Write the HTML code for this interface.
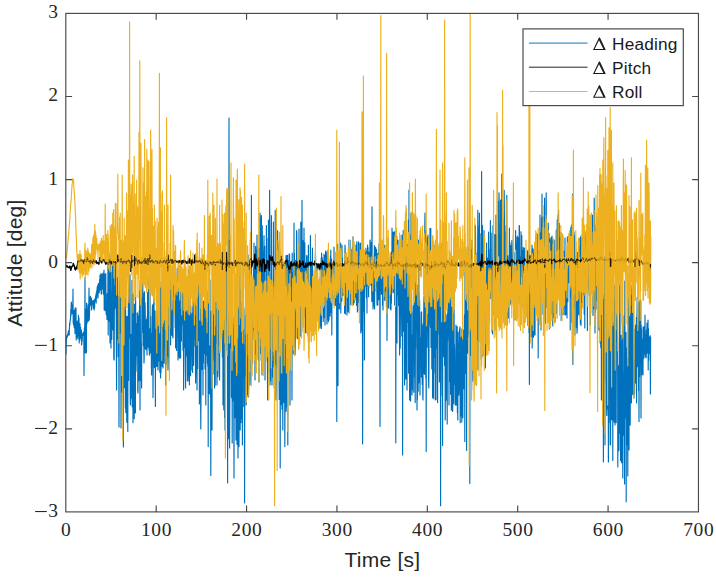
<!DOCTYPE html>
<html><head><meta charset="utf-8"><title>Attitude differences</title>
<style>
html,body{margin:0;padding:0;background:#fff;}
body{width:716px;height:577px;overflow:hidden;font-family:"Liberation Sans",sans-serif;}
svg{display:block;}
.tk text{font-family:"Liberation Serif",serif;font-size:19.5px;fill:#262626;}
.lb{font-family:"Liberation Sans",sans-serif;font-size:21px;letter-spacing:0.25px;fill:#262626;}
.lg text{font-family:"Liberation Sans",sans-serif;font-size:17.25px;fill:#1a1a1a;}
</style></head>
<body>
<svg width="716" height="577" viewBox="0 0 716 577">
<rect width="716" height="577" fill="#fff"/>
<defs><clipPath id="c"><rect x="65.8" y="13.4" width="632.6500000000001" height="498.5"/></clipPath></defs>
<g clip-path="url(#c)" fill="none" stroke-width="1.15" stroke-linejoin="round" stroke-linecap="butt">
<path d="M65.80 336.5L66.00 354.0L66.20 345.0L66.40 340.5L66.60 335.9L66.80 336.5L67.00 336.7L67.20 337.4L67.40 335.1L67.60 334.7L67.80 334.3L68.00 333.6L68.20 333.1L68.40 331.1L68.60 335.1L68.80 330.7L69.00 330.0L69.20 335.0L69.40 329.0L69.60 323.0L69.80 325.5L70.00 321.2L70.20 320.9L70.40 318.6L70.60 317.3L70.80 309.4L71.00 315.8L71.20 303.6L71.40 302.0L71.60 308.0L71.80 309.2L72.00 304.6L72.20 313.6L72.40 308.4L72.60 313.4L72.80 308.1L73.00 289.0L73.20 323.0L73.40 323.4L73.60 325.0L73.80 319.1L74.00 310.4L74.20 327.7L74.40 310.2L74.60 323.6L74.80 322.7L75.00 333.6L75.20 307.9L75.40 310.0L75.60 317.1L75.80 309.2L76.00 308.0L76.20 340.0L76.40 334.2L76.60 334.9L76.80 321.4L77.00 328.1L77.20 324.8L77.40 337.2L77.60 321.2L77.80 338.8L78.00 327.0L78.20 335.5L78.40 315.4L78.60 335.6L78.80 318.2L79.00 318.0L79.20 343.0L79.40 332.8L79.60 324.9L79.80 340.5L80.00 323.7L80.20 330.9L80.40 331.0L80.60 327.3L80.80 330.6L81.00 338.3L81.20 334.9L81.40 330.0L81.60 345.0L81.80 343.4L82.00 335.7L82.20 340.7L82.40 333.8L82.60 335.6L82.80 335.3L83.00 335.1L83.20 332.5L83.40 332.4L83.60 332.6L83.80 332.2L84.00 375.6L84.20 333.0L84.40 328.3L84.60 328.9L84.80 322.5L85.00 277.5L85.20 353.0L85.40 325.5L85.60 318.8L85.80 312.0L86.00 309.2L86.20 317.9L86.40 353.0L86.60 303.0L86.80 303.9L87.00 323.4L87.20 308.8L87.40 318.3L87.60 312.3L87.80 321.4L88.00 321.2L88.20 305.2L88.40 310.9L88.60 320.9L88.80 306.8L89.00 288.0L89.20 320.0L89.40 316.8L89.60 309.7L89.80 305.4L90.00 297.1L90.20 301.1L90.40 296.2L90.60 305.2L90.80 303.6L91.00 302.9L91.20 299.3L91.40 298.0L91.60 310.0L91.80 302.3L92.00 301.7L92.20 303.1L92.40 301.2L92.60 304.9L92.80 300.5L93.00 301.2L93.20 301.7L93.40 308.4L93.60 303.8L93.80 303.3L94.00 300.0L94.20 310.0L94.40 301.6L94.60 307.8L94.80 300.1L95.00 298.7L95.20 301.2L95.40 299.8L95.60 296.6L95.80 296.0L96.00 294.0L96.20 303.1L96.40 292.3L96.60 298.2L96.80 290.2L97.00 294.0L97.20 286.9L97.40 296.0L97.60 286.9L97.80 285.0L98.00 298.0L98.20 292.3L98.40 283.3L98.60 283.9L98.80 291.0L99.00 290.8L99.20 292.8L99.40 287.3L99.60 279.4L99.80 288.0L100.00 275.0L100.20 290.0L100.40 284.3L100.60 287.9L100.80 282.4L101.00 273.4L101.20 293.3L101.40 294.1L101.60 274.5L101.80 279.9L102.00 286.7L102.20 288.2L102.40 274.6L102.60 288.6L102.80 289.3L103.00 273.0L103.20 293.7L103.40 279.6L103.60 285.8L103.80 294.6L104.00 270.0L104.20 310.0L104.40 301.9L104.60 276.3L104.80 274.3L105.00 297.8L105.20 310.7L105.40 310.0L105.60 307.6L105.80 273.5L106.00 305.6L106.20 314.6L106.40 305.1L106.60 315.1L106.80 307.9L107.00 319.4L107.20 293.5L107.40 300.4L107.60 300.2L107.80 313.4L108.00 262.0L108.20 335.0L108.40 271.8L108.60 291.2L108.80 260.2L109.00 262.0L109.20 286.8L109.40 321.4L109.60 263.2L109.80 314.3L110.00 343.0L110.20 255.0L110.40 266.3L110.60 336.8L110.80 272.0L111.00 348.1L111.20 293.3L111.40 311.9L111.60 294.7L111.80 339.5L112.00 299.8L112.20 268.6L112.40 253.1L112.60 311.0L112.80 257.9L113.00 329.9L113.20 280.5L113.40 307.5L113.60 291.3L113.80 358.9L114.00 250.0L114.20 360.0L114.40 285.9L114.60 308.9L114.80 291.3L115.00 301.5L115.20 307.7L115.40 289.4L115.60 262.2L115.80 285.8L116.00 301.3L116.20 316.3L116.40 353.8L116.60 390.0L116.80 255.0L117.00 339.0L117.20 293.8L117.40 277.5L117.60 309.8L117.80 311.9L118.00 302.0L118.20 356.8L118.40 296.5L118.60 334.7L118.80 338.4L119.00 427.0L119.20 343.0L119.40 276.0L119.60 263.5L119.80 333.3L120.00 262.0L120.20 306.2L120.40 323.3L120.60 323.4L120.80 264.9L121.00 428.0L121.20 352.3L121.40 307.3L121.60 333.2L121.80 392.1L122.00 313.7L122.20 328.6L122.40 337.4L122.60 379.4L122.80 292.3L123.00 288.3L123.20 351.9L123.40 447.0L123.60 307.7L123.80 380.9L124.00 309.5L124.20 387.7L124.40 320.1L124.60 338.2L124.80 276.5L125.00 331.3L125.20 265.8L125.40 408.0L125.60 310.1L125.80 412.6L126.00 346.1L126.20 377.6L126.40 316.3L126.60 366.1L126.80 422.2L127.00 342.8L127.20 392.9L127.40 409.2L127.60 316.5L127.80 431.5L128.00 323.1L128.20 368.8L128.40 283.1L128.60 380.4L128.80 272.9L129.00 337.7L129.20 280.3L129.40 335.4L129.60 332.8L129.80 298.0L130.00 275.0L130.20 393.8L130.40 405.0L130.60 398.3L130.80 336.0L131.00 370.7L131.20 334.4L131.40 398.2L131.60 353.7L131.80 371.7L132.00 280.4L132.20 406.8L132.40 324.5L132.60 372.1L132.80 308.6L133.00 422.7L133.20 294.1L133.40 384.0L133.60 342.0L133.80 408.6L134.00 310.4L134.20 418.7L134.40 304.0L134.60 412.9L134.80 352.5L135.00 318.3L135.20 349.1L135.40 413.0L135.60 295.1L135.80 371.7L136.00 369.7L136.20 360.0L136.40 323.7L136.60 344.6L136.80 325.8L137.00 355.8L137.20 312.9L137.40 313.9L137.60 313.3L137.80 390.6L138.00 393.0L138.20 369.5L138.40 316.1L138.60 381.0L138.80 379.4L139.00 336.2L139.20 310.6L139.40 349.2L139.60 295.4L139.80 290.2L140.00 410.0L140.20 280.0L140.40 333.8L140.60 379.7L140.80 350.4L141.00 380.8L141.20 352.2L141.40 343.3L141.60 388.0L141.80 328.5L142.00 294.9L142.20 291.2L142.40 328.9L142.60 311.1L142.80 283.9L143.00 332.7L143.20 293.1L143.40 345.8L143.60 314.8L143.80 343.4L144.00 363.0L144.20 358.1L144.40 291.7L144.60 339.2L144.80 311.4L145.00 302.2L145.20 307.5L145.40 348.7L145.60 323.9L145.80 348.8L146.00 349.8L146.20 342.8L146.40 319.6L146.60 343.6L146.80 321.4L147.00 355.0L147.20 316.5L147.40 344.7L147.60 292.5L147.80 347.2L148.00 305.6L148.20 326.5L148.40 278.6L148.60 314.2L148.80 336.7L149.00 350.0L149.20 319.7L149.40 355.3L149.60 330.8L149.80 341.0L150.00 275.0L150.20 343.1L150.40 316.0L150.60 353.0L150.80 338.4L151.00 344.7L151.20 333.6L151.40 367.0L151.60 375.0L151.80 342.2L152.00 317.6L152.20 315.7L152.40 304.8L152.60 341.8L152.80 335.5L153.00 397.6L153.20 368.1L153.40 334.5L153.60 298.4L153.80 332.9L154.00 295.2L154.20 346.3L154.40 367.4L154.60 331.7L154.80 324.1L155.00 310.8L155.20 340.8L155.40 406.4L155.60 329.0L155.80 350.1L156.00 339.3L156.20 340.1L156.40 333.2L156.60 366.4L156.80 309.9L157.00 342.8L157.20 366.2L157.40 325.0L157.60 282.6L157.80 352.5L158.00 370.0L158.20 351.9L158.40 312.7L158.60 321.4L158.80 328.7L159.00 360.9L159.20 326.3L159.40 311.5L159.60 321.0L159.80 372.2L160.00 282.0L160.20 340.6L160.40 305.0L160.60 378.0L160.80 287.7L161.00 372.6L161.20 317.1L161.40 322.8L161.60 290.3L161.80 319.0L162.00 285.5L162.20 366.3L162.40 328.8L162.60 311.2L162.80 288.4L163.00 368.0L163.20 310.0L163.40 341.6L163.60 293.3L163.80 337.0L164.00 283.2L164.20 363.2L164.40 317.8L164.60 347.5L164.80 275.2L165.00 338.5L165.20 298.8L165.40 307.8L165.60 385.0L165.80 319.7L166.00 276.1L166.20 346.1L166.40 364.4L166.60 357.6L166.80 317.4L167.00 355.8L167.20 311.1L167.40 344.9L167.60 299.5L167.80 286.9L168.00 370.0L168.20 364.3L168.40 287.9L168.60 357.1L168.80 335.8L169.00 291.4L169.20 272.8L169.40 315.4L169.60 288.8L169.80 306.1L170.00 272.0L170.20 272.0L170.40 323.6L170.60 345.0L170.80 303.4L171.00 316.1L171.20 324.2L171.40 305.7L171.60 275.2L171.80 335.3L172.00 310.4L172.20 334.3L172.40 311.3L172.60 336.2L172.80 308.9L173.00 338.0L173.20 283.5L173.40 296.5L173.60 292.2L173.80 294.7L174.00 274.2L174.20 293.3L174.40 272.2L174.60 285.7L174.80 274.2L175.00 305.7L175.20 327.6L175.40 308.0L175.60 348.0L175.80 315.5L176.00 301.0L176.20 314.4L176.40 279.4L176.60 350.5L176.80 322.0L177.00 301.8L177.20 268.6L177.40 311.4L177.60 332.7L177.80 288.6L178.00 360.0L178.20 338.5L178.40 356.0L178.60 311.6L178.80 287.7L179.00 316.8L179.20 322.9L179.40 358.3L179.60 304.3L179.80 306.6L180.00 268.0L180.20 332.8L180.40 276.2L180.60 358.0L180.80 267.4L181.00 322.8L181.20 331.8L181.40 341.1L181.60 307.5L181.80 292.2L182.00 291.1L182.20 320.7L182.40 324.1L182.60 316.8L182.80 303.6L183.00 350.3L183.20 274.3L183.40 296.0L183.60 390.0L183.80 368.2L184.00 327.4L184.20 328.1L184.40 300.0L184.60 344.0L184.80 289.8L185.00 347.5L185.20 282.0L185.40 348.4L185.60 388.0L185.80 335.9L186.00 348.7L186.20 323.4L186.40 279.9L186.60 355.8L186.80 295.6L187.00 334.9L187.20 300.8L187.40 380.6L187.60 280.8L187.80 346.8L188.00 381.1L188.20 374.9L188.40 303.5L188.60 269.8L188.80 275.2L189.00 357.4L189.20 306.4L189.40 385.0L189.60 309.1L189.80 361.6L190.00 272.0L190.20 345.7L190.40 350.5L190.60 375.7L190.80 305.9L191.00 334.6L191.20 313.9L191.40 355.2L191.60 354.6L191.80 350.1L192.00 370.0L192.20 369.4L192.40 313.1L192.60 372.5L192.80 307.3L193.00 317.5L193.20 283.4L193.40 344.4L193.60 365.3L193.80 305.3L194.00 326.0L194.20 322.9L194.40 339.1L194.60 290.7L194.80 292.6L195.00 346.3L195.20 277.4L195.40 355.9L195.60 383.0L195.80 369.9L196.00 294.8L196.20 351.9L196.40 341.9L196.60 341.0L196.80 323.7L197.00 390.0L197.20 334.6L197.40 284.9L197.60 368.4L197.80 279.6L198.00 299.0L198.20 340.8L198.40 279.5L198.60 336.5L198.80 337.8L199.00 335.5L199.20 281.6L199.40 404.0L199.60 296.4L199.80 328.7L200.00 278.0L200.20 366.5L200.40 309.4L200.60 397.9L200.80 429.0L201.00 396.0L201.20 317.1L201.40 364.0L201.60 329.7L201.80 327.9L202.00 331.6L202.20 369.5L202.40 285.2L202.60 358.9L202.80 313.7L203.00 395.0L203.20 301.3L203.40 362.9L203.60 301.2L203.80 343.4L204.00 318.1L204.20 353.4L204.40 335.7L204.60 351.1L204.80 303.3L205.00 369.0L205.20 331.0L205.40 360.6L205.60 311.9L205.80 405.0L206.00 285.6L206.20 341.3L206.40 283.1L206.60 355.5L206.80 333.4L207.00 333.5L207.20 323.1L207.40 363.2L207.60 349.7L207.80 366.4L208.00 290.9L208.20 446.6L208.40 285.9L208.60 337.4L208.80 335.9L209.00 381.3L209.20 369.5L209.40 393.7L209.60 357.3L209.80 352.0L210.00 280.0L210.20 350.3L210.40 396.6L210.60 345.1L210.80 475.5L211.00 390.7L211.20 311.1L211.40 378.6L211.60 337.1L211.80 374.5L212.00 430.0L212.20 362.5L212.40 344.7L212.60 360.4L212.80 334.2L213.00 346.8L213.20 328.3L213.40 276.5L213.60 315.0L213.80 328.3L214.00 374.2L214.20 329.6L214.40 275.6L214.60 388.0L214.80 302.1L215.00 383.4L215.20 385.2L215.40 357.2L215.60 275.0L215.80 333.2L216.00 308.8L216.20 343.2L216.40 327.4L216.60 331.3L216.80 312.3L217.00 385.0L217.20 295.3L217.40 322.1L217.60 353.6L217.80 376.7L218.00 371.6L218.20 285.7L218.40 291.7L218.60 345.5L218.80 331.0L219.00 284.5L219.20 307.6L219.40 349.4L219.60 380.0L219.80 285.2L220.00 272.0L220.20 274.7L220.40 269.7L220.60 325.7L220.80 280.4L221.00 325.5L221.20 328.8L221.40 281.1L221.60 274.4L221.80 329.8L222.00 324.7L222.20 336.5L222.40 357.1L222.60 302.1L222.80 318.7L223.00 405.0L223.20 343.5L223.40 315.3L223.60 283.6L223.80 409.8L224.00 373.2L224.20 402.2L224.40 386.8L224.60 417.4L224.80 314.1L225.00 430.0L225.20 392.9L225.40 267.9L225.60 312.9L225.80 321.3L226.00 260.0L226.20 314.1L226.40 258.8L226.60 293.0L226.80 336.6L227.00 350.6L227.20 296.1L227.40 331.5L227.60 483.0L227.80 388.8L228.00 240.0L228.20 406.7L228.40 245.5L228.60 438.6L228.80 267.4L229.00 118.0L229.20 305.6L229.40 357.3L229.60 448.0L229.80 397.8L230.00 240.0L230.20 348.1L230.40 282.8L230.60 277.8L230.80 302.6L231.00 306.7L231.20 267.4L231.40 396.0L231.60 397.8L231.80 376.0L232.00 262.0L232.20 443.0L232.40 344.4L232.60 401.2L232.80 317.2L233.00 328.1L233.20 391.8L233.40 399.8L233.60 354.4L233.80 396.4L234.00 478.0L234.20 393.1L234.40 279.5L234.60 389.4L234.80 407.7L235.00 417.7L235.20 292.5L235.40 369.5L235.60 353.0L235.80 368.6L236.00 440.0L236.20 392.1L236.40 378.6L236.60 325.4L236.80 345.0L237.00 444.3L237.20 311.1L237.40 327.5L237.60 261.4L237.80 332.5L238.00 458.0L238.20 378.2L238.40 306.8L238.60 402.9L238.80 325.2L239.00 446.6L239.20 377.3L239.40 386.8L239.60 384.5L239.80 418.9L240.00 265.0L240.20 430.0L240.40 361.2L240.60 289.7L240.80 374.3L241.00 422.8L241.20 312.9L241.40 404.2L241.60 335.8L241.80 418.4L242.00 302.2L242.20 349.1L242.40 445.0L242.60 336.7L242.80 361.3L243.00 368.6L243.20 304.9L243.40 365.7L243.60 344.4L243.80 406.6L244.00 350.9L244.20 394.3L244.40 369.3L244.60 503.0L244.80 349.6L245.00 312.0L245.20 307.6L245.40 375.7L245.60 297.7L245.80 364.2L246.00 309.4L246.20 405.0L246.40 349.7L246.60 396.8L246.80 330.5L247.00 379.5L247.20 330.9L247.40 394.4L247.60 334.2L247.80 359.0L248.00 255.0L248.20 397.1L248.40 337.6L248.60 389.5L248.80 278.4L249.00 354.7L249.20 305.3L249.40 268.3L249.60 260.4L249.80 267.0L250.00 385.0L250.20 378.1L250.40 240.0L250.60 270.3L250.80 351.5L251.00 283.6L251.20 306.7L251.40 195.4L251.60 304.4L251.80 365.2L252.00 336.3L252.20 305.1L252.40 308.3L252.60 363.2L252.80 283.8L253.00 339.4L253.20 282.4L253.40 309.3L253.60 268.0L253.80 311.8L254.00 243.0L254.20 330.7L254.40 290.2L254.60 260.2L254.80 275.6L255.00 380.0L255.20 291.6L255.40 354.6L255.60 246.4L255.80 306.4L256.00 272.5L256.20 308.8L256.40 348.4L256.60 249.7L256.80 333.6L257.00 235.0L257.20 326.2L257.40 312.6L257.60 297.0L257.80 283.9L258.00 305.5L258.20 359.7L258.40 300.4L258.60 305.1L258.80 248.5L259.00 382.0L259.20 286.1L259.40 336.8L259.60 286.5L259.80 360.4L260.00 213.0L260.20 220.1L260.40 353.6L260.60 303.9L260.80 224.4L261.00 328.9L261.20 228.2L261.40 215.5L261.60 262.1L261.80 233.8L262.00 375.0L262.20 225.6L262.40 238.1L262.60 246.5L262.80 253.6L263.00 307.6L263.20 283.9L263.40 337.5L263.60 257.2L263.80 328.3L264.00 235.6L264.20 335.4L264.40 270.4L264.60 298.2L264.80 246.2L265.00 380.0L265.20 282.5L265.40 322.5L265.60 314.9L265.80 334.7L266.00 292.0L266.20 326.5L266.40 225.5L266.60 315.3L266.80 338.5L267.00 321.4L267.20 319.4L267.40 358.9L267.60 400.0L267.80 330.0L268.00 238.2L268.20 372.4L268.40 220.0L268.60 253.5L268.80 264.0L269.00 268.1L269.20 222.6L269.40 265.6L269.60 190.3L269.80 223.2L270.00 385.0L270.20 377.0L270.40 381.0L270.60 318.7L270.80 285.6L271.00 317.0L271.20 338.6L271.40 215.5L271.60 277.4L271.80 374.7L272.00 385.0L272.20 351.8L272.40 377.3L272.60 346.0L272.80 297.5L273.00 284.0L273.20 306.1L273.40 222.0L273.60 320.7L273.80 366.8L274.00 328.0L274.20 387.4L274.40 357.7L274.60 337.2L274.80 364.2L275.00 325.9L275.20 210.4L275.40 286.5L275.60 323.9L275.80 318.5L276.00 400.0L276.20 392.8L276.40 290.1L276.60 258.6L276.80 367.0L277.00 342.1L277.20 294.5L277.40 330.7L277.60 230.6L277.80 351.1L278.00 266.9L278.20 281.2L278.40 251.9L278.60 274.9L278.80 244.0L279.00 345.6L279.20 399.5L279.40 312.5L279.60 268.2L279.80 376.8L280.00 252.0L280.20 468.0L280.40 347.8L280.60 386.4L280.80 321.1L281.00 309.1L281.20 404.5L281.40 353.4L281.60 285.6L281.80 366.7L282.00 409.3L282.20 357.9L282.40 361.4L282.60 348.8L282.80 430.0L283.00 285.0L283.20 279.3L283.40 390.0L283.60 281.7L283.80 402.4L284.00 312.2L284.20 369.4L284.40 322.6L284.60 307.6L284.80 446.6L285.00 405.9L285.20 305.6L285.40 356.7L285.60 338.7L285.80 343.5L286.00 255.7L286.20 411.3L286.40 288.6L286.60 406.8L286.80 255.4L287.00 312.3L287.20 298.0L287.40 319.0L287.60 255.3L287.80 445.0L288.00 287.9L288.20 306.5L288.40 260.5L288.60 302.8L288.80 336.6L289.00 330.3L289.20 253.8L289.40 336.9L289.60 254.4L289.80 274.5L290.00 405.0L290.20 314.7L290.40 277.8L290.60 293.8L290.80 335.3L291.00 295.0L291.20 262.7L291.40 342.5L291.60 331.5L291.80 322.0L292.00 400.0L292.20 253.0L292.40 315.3L292.60 333.1L292.80 275.3L293.00 272.9L293.20 292.5L293.40 353.8L293.60 270.2L293.80 348.1L294.00 223.0L294.20 314.6L294.40 253.0L294.60 322.5L294.80 260.4L295.00 355.0L295.20 344.9L295.40 327.8L295.60 290.1L295.80 325.7L296.00 260.0L296.20 318.5L296.40 310.0L296.60 230.6L296.80 232.2L297.00 278.2L297.20 317.7L297.40 321.1L297.60 338.7L297.80 275.7L298.00 269.4L298.20 291.1L298.40 282.7L298.60 296.7L298.80 291.7L299.00 229.0L299.20 289.2L299.40 279.9L299.60 286.0L299.80 290.4L300.00 335.0L300.20 320.8L300.40 264.7L300.60 336.0L300.80 222.0L301.00 324.8L301.20 244.1L301.40 289.6L301.60 240.8L301.80 331.2L302.00 200.4L302.20 291.7L302.40 273.5L302.60 256.1L302.80 240.6L303.00 310.7L303.20 258.3L303.40 317.8L303.60 294.0L303.80 279.7L304.00 228.0L304.20 284.4L304.40 258.6L304.60 316.5L304.80 242.9L305.00 281.1L305.20 291.5L305.40 262.2L305.60 332.7L305.80 332.2L306.00 292.8L306.20 324.2L306.40 299.4L306.60 255.7L306.80 267.8L307.00 255.7L307.20 333.3L307.40 308.3L307.60 276.8L307.80 300.1L308.00 289.6L308.20 288.2L308.40 245.0L308.60 324.6L308.80 306.9L309.00 310.1L309.20 290.7L309.40 321.9L309.60 297.7L309.80 330.9L310.00 330.0L310.20 294.3L310.40 235.6L310.60 310.6L310.80 290.1L311.00 297.7L311.20 263.3L311.40 326.7L311.60 274.1L311.80 318.4L312.00 280.8L312.20 273.1L312.40 248.0L312.60 302.7L312.80 285.1L313.00 318.7L313.20 331.2L313.40 290.8L313.60 330.8L313.80 294.4L314.00 300.8L314.20 305.3L314.40 313.6L314.60 294.1L314.80 320.6L315.00 330.1L315.20 280.4L315.40 253.0L315.60 258.4L315.80 307.3L316.00 281.9L316.20 318.9L316.40 265.6L316.60 297.8L316.80 281.1L317.00 303.2L317.20 278.0L317.40 302.4L317.60 319.5L317.80 293.9L318.00 282.6L318.20 293.7L318.40 284.6L318.60 321.0L318.80 297.6L319.00 297.6L319.20 300.5L319.40 327.6L319.60 286.8L319.80 292.8L320.00 328.0L320.20 305.6L320.40 294.0L320.60 318.0L320.80 325.5L321.00 320.8L321.20 258.0L321.40 328.4L321.60 253.0L321.80 299.1L322.00 272.8L322.20 257.5L322.40 264.0L322.60 290.8L322.80 301.7L323.00 297.2L323.20 321.5L323.40 304.6L323.60 281.7L323.80 297.8L324.00 254.2L324.20 317.3L324.40 285.0L324.60 285.7L324.80 255.6L325.00 325.0L325.20 261.1L325.40 281.1L325.60 251.0L325.80 279.2L326.00 253.8L326.20 251.9L326.40 255.5L326.60 289.9L326.80 283.8L327.00 324.0L327.20 283.0L327.40 319.1L327.60 296.1L327.80 307.7L328.00 250.0L328.20 297.5L328.40 321.8L328.60 273.7L328.80 285.0L329.00 320.0L329.20 290.0L329.40 269.5L329.60 270.8L329.80 305.9L330.00 298.8L330.20 316.1L330.40 255.8L330.60 312.5L330.80 250.1L331.00 275.2L331.20 291.3L331.40 298.5L331.60 259.1L331.80 335.0L332.00 284.1L332.20 270.1L332.40 279.6L332.60 272.6L332.80 263.6L333.00 297.1L333.20 287.8L333.40 297.9L333.60 281.7L333.80 293.8L334.00 247.0L334.20 305.0L334.40 290.3L334.60 293.0L334.80 281.9L335.00 295.9L335.20 284.5L335.40 305.4L335.60 266.8L335.80 296.5L336.00 286.4L336.20 285.3L336.40 278.4L336.60 291.5L336.80 421.5L337.00 303.8L337.20 253.2L337.40 285.7L337.60 244.1L337.80 281.5L338.00 385.7L338.20 261.3L338.40 293.8L338.60 304.7L338.80 272.4L339.00 287.3L339.20 268.7L339.40 308.9L339.60 277.7L339.80 264.7L340.00 257.5L340.20 276.4L340.40 270.6L340.60 243.0L340.80 313.0L341.00 295.1L341.20 256.6L341.40 260.5L341.60 276.1L341.80 301.1L342.00 245.0L342.20 275.6L342.40 258.1L342.60 278.6L342.80 277.6L343.00 295.4L343.20 280.6L343.40 293.3L343.60 280.8L343.80 283.6L344.00 273.0L344.20 278.8L344.40 271.4L344.60 313.2L344.80 271.7L345.00 245.0L345.20 248.2L345.40 314.0L345.60 260.7L345.80 282.5L346.00 297.7L346.20 289.7L346.40 278.3L346.60 273.4L346.80 271.6L347.00 315.0L347.20 270.2L347.40 274.2L347.60 257.6L347.80 310.2L348.00 311.7L348.20 280.2L348.40 266.0L348.60 285.7L348.80 273.5L349.00 240.0L349.20 313.0L349.40 289.2L349.60 309.3L349.80 259.5L350.00 240.4L350.20 284.0L350.40 269.9L350.60 299.2L350.80 304.5L351.00 285.0L351.20 270.2L351.40 249.8L351.60 284.2L351.80 250.9L352.00 281.7L352.20 288.1L352.40 246.5L352.60 296.5L352.80 271.9L353.00 236.8L353.20 266.9L353.40 304.4L353.60 279.1L353.80 298.4L354.00 274.1L354.20 302.7L354.40 280.6L354.60 287.3L354.80 274.9L355.00 300.0L355.20 267.4L355.40 280.6L355.60 252.7L355.80 297.3L356.00 245.0L356.20 273.2L356.40 248.6L356.60 305.5L356.80 241.7L357.00 243.0L357.20 265.3L357.40 312.0L357.60 291.2L357.80 310.8L358.00 281.9L358.20 292.8L358.40 273.7L358.60 241.8L358.80 302.3L359.00 286.9L359.20 271.7L359.40 295.4L359.60 270.5L359.80 293.2L360.00 243.7L360.20 288.0L360.40 272.6L360.60 243.0L360.80 333.0L361.00 311.1L361.20 271.2L361.40 320.4L361.60 330.9L361.80 329.9L362.00 279.4L362.20 322.8L362.40 272.5L362.60 444.0L362.80 325.4L363.00 302.2L363.20 285.0L363.40 289.2L363.60 251.4L363.80 311.0L364.00 278.8L364.20 287.4L364.40 360.0L364.60 282.5L364.80 263.2L365.00 286.4L365.20 262.8L365.40 258.6L365.60 253.1L365.80 256.4L366.00 248.0L366.20 284.3L366.40 296.8L366.60 298.1L366.80 267.8L367.00 313.0L367.20 251.4L367.40 285.8L367.60 245.0L367.80 268.3L368.00 247.5L368.20 276.9L368.40 270.0L368.60 296.7L368.80 255.7L369.00 252.2L369.20 269.5L369.40 252.2L369.60 265.7L369.80 266.0L370.00 240.0L370.20 240.7L370.40 262.4L370.60 277.0L370.80 285.1L371.00 271.6L371.20 242.8L371.40 274.6L371.60 272.4L371.80 301.6L372.00 206.7L372.20 271.5L372.40 262.7L372.60 283.5L372.80 265.2L373.00 309.0L373.20 260.6L373.40 284.1L373.60 268.8L373.80 299.4L374.00 266.7L374.20 306.4L374.40 245.6L374.60 309.0L374.80 253.2L375.00 291.1L375.20 251.9L375.40 266.9L375.60 247.2L375.80 273.7L376.00 255.8L376.20 269.3L376.40 249.3L376.60 286.3L376.80 288.4L377.00 305.0L377.20 269.1L377.40 254.1L377.60 268.9L377.80 305.2L378.00 253.1L378.20 277.5L378.40 272.9L378.60 299.7L378.80 265.4L379.00 244.0L379.20 260.4L379.40 283.4L379.60 265.8L379.80 301.6L380.00 426.5L380.20 256.5L380.40 287.2L380.60 282.6L380.80 246.3L381.00 290.2L381.20 241.5L381.40 294.2L381.60 243.6L381.80 249.9L382.00 264.8L382.20 275.3L382.40 289.9L382.60 305.3L382.80 272.2L383.00 310.0L383.20 275.7L383.40 240.6L383.60 246.0L383.80 293.2L384.00 249.0L384.20 282.2L384.40 245.6L384.60 297.0L384.80 300.4L385.00 278.2L385.20 291.2L385.40 290.3L385.60 255.7L385.80 286.1L386.00 260.0L386.20 244.8L386.40 306.7L386.60 289.1L386.80 251.4L387.00 340.5L387.20 284.4L387.40 288.2L387.60 261.9L387.80 290.3L388.00 275.1L388.20 238.0L388.40 308.1L388.60 292.7L388.80 278.4L389.00 276.3L389.20 282.3L389.40 284.7L389.60 263.6L389.80 287.3L390.00 285.3L390.20 308.8L390.40 283.4L390.60 295.8L390.80 253.9L391.00 310.0L391.20 272.3L391.40 303.3L391.60 251.9L391.80 293.3L392.00 228.0L392.20 267.4L392.40 267.7L392.60 267.6L392.80 232.1L393.00 260.1L393.20 284.2L393.40 292.4L393.60 234.6L393.80 240.1L394.00 232.0L394.20 286.4L394.40 232.2L394.60 305.0L394.80 231.6L395.00 235.0L395.20 233.4L395.40 293.0L395.60 250.6L395.80 442.8L396.00 252.6L396.20 310.9L396.40 283.2L396.60 272.6L396.80 236.0L397.00 343.0L397.20 271.7L397.40 294.4L397.60 240.8L397.80 254.8L398.00 240.0L398.20 280.0L398.40 292.4L398.60 305.5L398.80 250.7L399.00 295.9L399.20 310.5L399.40 332.5L399.60 355.0L399.80 235.2L400.00 248.8L400.20 348.1L400.40 318.2L400.60 284.9L400.80 279.8L401.00 287.2L401.20 268.9L401.40 284.1L401.60 314.2L401.80 335.9L402.00 235.0L402.20 284.9L402.40 257.0L402.60 455.0L402.80 282.0L403.00 304.7L403.20 230.4L403.40 324.6L403.60 271.4L403.80 331.1L404.00 247.8L404.20 315.5L404.40 266.6L404.60 385.0L404.80 340.6L405.00 306.6L405.20 273.7L405.40 324.2L405.60 267.0L405.80 379.1L406.00 215.0L406.20 335.9L406.40 375.4L406.60 296.5L406.80 316.5L407.00 390.0L407.20 246.7L407.40 314.4L407.60 244.7L407.80 322.4L408.00 259.6L408.20 252.2L408.40 219.8L408.60 373.1L408.80 318.0L409.00 190.0L409.20 218.5L409.40 313.2L409.60 400.0L409.80 390.4L410.00 279.8L410.20 311.5L410.40 234.9L410.60 401.1L410.80 323.9L411.00 213.0L411.20 279.6L411.40 370.2L411.60 334.7L411.80 386.7L412.00 395.0L412.20 359.4L412.40 389.9L412.60 359.2L412.80 312.4L413.00 311.6L413.20 305.0L413.40 309.8L413.60 257.0L413.80 392.3L414.00 317.4L414.20 376.8L414.40 361.6L414.60 275.4L414.80 299.4L415.00 225.0L415.20 402.6L415.40 343.5L415.60 348.6L415.80 301.1L416.00 278.5L416.20 310.5L416.40 305.1L416.60 331.3L416.80 285.1L417.00 410.0L417.20 349.1L417.40 399.8L417.60 305.8L417.80 360.6L418.00 332.6L418.20 391.2L418.40 240.0L418.60 382.4L418.80 314.2L419.00 382.7L419.20 285.2L419.40 373.0L419.60 300.0L419.80 355.7L420.00 395.0L420.20 359.6L420.40 338.1L420.60 366.0L420.80 357.4L421.00 357.4L421.20 312.6L421.40 377.1L421.60 311.9L421.80 367.7L422.00 325.3L422.20 384.4L422.40 336.2L422.60 358.2L422.80 395.8L423.00 400.0L423.20 323.4L423.40 373.4L423.60 329.3L423.80 305.0L424.00 296.5L424.20 322.6L424.40 289.8L424.60 374.3L424.80 225.0L425.00 213.0L425.20 258.3L425.40 325.6L425.60 230.4L425.80 377.7L426.00 330.9L426.20 451.6L426.40 258.3L426.60 294.6L426.80 237.4L427.00 347.2L427.20 278.5L427.40 332.6L427.60 309.6L427.80 318.5L428.00 235.0L428.20 327.7L428.40 358.7L428.60 379.0L428.80 388.0L429.00 349.1L429.20 291.0L429.40 296.9L429.60 323.2L429.80 291.2L430.00 228.2L430.20 271.2L430.40 326.4L430.60 327.7L430.80 228.6L431.00 347.5L431.20 342.9L431.40 278.8L431.60 262.0L431.80 368.8L432.00 278.1L432.20 358.3L432.40 273.6L432.60 397.6L432.80 361.2L433.00 386.0L433.20 260.6L433.40 398.4L433.60 318.6L433.80 373.1L434.00 288.2L434.20 357.5L434.40 313.7L434.60 354.9L434.80 301.4L435.00 245.0L435.20 400.0L435.40 274.2L435.60 247.3L435.80 292.8L436.00 399.6L436.20 325.6L436.40 251.5L436.60 348.4L436.80 316.4L437.00 251.2L437.20 318.3L437.40 240.2L437.60 402.6L437.80 297.7L438.00 319.9L438.20 314.1L438.40 311.4L438.60 306.8L438.80 250.5L439.00 334.2L439.20 311.4L439.40 381.9L439.60 245.6L439.80 317.9L440.00 262.9L440.20 357.8L440.40 245.9L440.60 505.7L440.80 311.2L441.00 243.3L441.20 249.2L441.40 347.4L441.60 275.9L441.80 308.0L442.00 366.3L442.20 395.5L442.40 339.5L442.60 445.4L442.80 242.7L443.00 329.0L443.20 299.0L443.40 356.8L443.60 253.2L443.80 317.0L444.00 257.3L444.20 303.4L444.40 247.6L444.60 365.3L444.80 317.5L445.00 248.0L445.20 420.0L445.40 392.1L445.60 321.8L445.80 379.7L446.00 400.2L446.20 378.9L446.40 351.2L446.60 346.3L446.80 315.2L447.00 348.2L447.20 424.0L447.40 313.4L447.60 340.9L447.80 332.4L448.00 283.4L448.20 312.6L448.40 272.3L448.60 265.6L448.80 276.2L449.00 405.0L449.20 301.6L449.40 307.3L449.60 300.6L449.80 338.5L450.00 381.4L450.20 344.5L450.40 323.9L450.60 394.3L450.80 287.6L451.00 276.5L451.20 307.7L451.40 410.2L451.60 293.1L451.80 367.3L452.00 277.7L452.20 337.9L452.40 282.8L452.60 411.4L452.80 404.2L453.00 337.9L453.20 313.9L453.40 403.5L453.60 313.3L453.80 384.5L454.00 250.0L454.20 370.7L454.40 344.2L454.60 350.2L454.80 377.1L455.00 402.1L455.20 405.0L455.40 391.6L455.60 366.8L455.80 373.7L456.00 325.0L456.20 405.1L456.40 350.8L456.60 379.4L456.80 355.1L457.00 380.0L457.20 326.6L457.40 412.8L457.60 333.9L457.80 420.0L458.00 356.1L458.20 332.0L458.40 362.0L458.60 358.9L458.80 395.1L459.00 388.2L459.20 343.5L459.40 364.6L459.60 328.7L459.80 381.4L460.00 326.9L460.20 422.7L460.40 337.5L460.60 387.4L460.80 379.2L461.00 360.2L461.20 358.4L461.40 416.0L461.60 336.8L461.80 422.1L462.00 328.8L462.20 410.8L462.40 367.3L462.60 344.6L462.80 417.7L463.00 372.3L463.20 344.9L463.40 330.0L463.60 370.3L463.80 349.9L464.00 388.8L464.20 381.0L464.40 316.2L464.60 314.7L464.80 441.6L465.00 255.0L465.20 329.0L465.40 373.2L465.60 302.7L465.80 367.9L466.00 249.7L466.20 310.4L466.40 287.2L466.60 450.4L466.80 342.0L467.00 315.1L467.20 289.5L467.40 330.6L467.60 310.6L467.80 353.3L468.00 256.6L468.20 336.9L468.40 287.6L468.60 333.0L468.80 246.2L469.00 263.2L469.20 295.5L469.40 334.3L469.60 258.9L469.80 483.6L470.00 291.2L470.20 353.6L470.40 303.7L470.60 348.1L470.80 249.4L471.00 355.5L471.20 308.3L471.40 256.9L471.60 390.0L471.80 359.6L472.00 240.0L472.20 381.3L472.40 348.8L472.60 286.4L472.80 288.9L473.00 352.8L473.20 316.2L473.40 343.1L473.60 315.9L473.80 309.0L474.00 380.0L474.20 341.3L474.40 292.9L474.60 352.7L474.80 375.3L475.00 225.0L475.20 289.3L475.40 226.2L475.60 237.3L475.80 319.6L476.00 252.9L476.20 332.2L476.40 276.7L476.60 314.8L476.80 303.3L477.00 340.0L477.20 309.6L477.40 295.7L477.60 269.9L477.80 210.4L478.00 370.0L478.20 338.1L478.40 293.4L478.60 235.7L478.80 226.5L479.00 247.8L479.20 223.9L479.40 213.0L479.60 301.7L479.80 334.2L480.00 233.6L480.20 340.9L480.40 285.5L480.60 318.4L480.80 339.9L481.00 297.8L481.20 359.5L481.40 276.3L481.60 171.5L481.80 357.6L482.00 334.2L482.20 281.7L482.40 225.4L482.60 352.8L482.80 313.0L483.00 355.5L483.20 278.0L483.40 323.1L483.60 265.3L483.80 290.2L484.00 230.6L484.20 268.6L484.40 262.9L484.60 281.3L484.80 279.6L485.00 312.0L485.20 332.0L485.40 368.0L485.60 289.7L485.80 296.8L486.00 333.1L486.20 319.7L486.40 272.0L486.60 243.0L486.80 324.3L487.00 288.5L487.20 270.5L487.40 258.1L487.60 319.2L487.80 281.7L488.00 345.0L488.20 290.2L488.40 290.0L488.60 232.0L488.80 277.4L489.00 297.5L489.20 322.4L489.40 276.2L489.60 262.1L489.80 269.6L490.00 249.3L490.20 267.8L490.40 220.5L490.60 298.3L490.80 267.7L491.00 285.0L491.20 233.0L491.40 298.0L491.60 288.6L491.80 294.7L492.00 262.6L492.20 332.4L492.40 290.5L492.60 333.9L492.80 262.6L493.00 225.5L493.20 234.5L493.40 298.2L493.60 253.8L493.80 282.2L494.00 239.9L494.20 315.1L494.40 239.4L494.60 234.6L494.80 234.6L495.00 330.0L495.20 255.3L495.40 298.7L495.60 259.5L495.80 305.5L496.00 215.0L496.20 281.0L496.40 321.5L496.60 262.8L496.80 303.1L497.00 317.8L497.20 235.2L497.40 273.7L497.60 243.1L497.80 261.6L498.00 217.8L498.20 201.5L498.40 256.0L498.60 252.4L498.80 232.1L499.00 192.8L499.20 202.2L499.40 247.5L499.60 246.0L499.80 282.7L500.00 265.3L500.20 237.3L500.40 276.6L500.60 200.0L500.80 252.9L501.00 327.7L501.20 293.3L501.40 281.5L501.60 272.1L501.80 174.0L502.00 271.8L502.20 278.8L502.40 271.4L502.60 281.8L502.80 248.1L503.00 279.5L503.20 269.5L503.40 283.2L503.60 251.5L503.80 218.5L504.00 236.5L504.20 190.3L504.40 215.0L504.60 262.9L504.80 262.1L505.00 325.0L505.20 232.3L505.40 262.4L505.60 305.4L505.80 281.9L506.00 225.8L506.20 279.2L506.40 227.9L506.60 319.5L506.80 195.4L507.00 324.9L507.20 258.7L507.40 283.5L507.60 260.3L507.80 255.8L508.00 260.6L508.20 278.6L508.40 318.1L508.60 293.9L508.80 279.5L509.00 301.8L509.20 270.4L509.40 228.0L509.60 271.2L509.80 293.8L510.00 242.9L510.20 304.3L510.40 270.2L510.60 267.6L510.80 245.8L511.00 298.3L511.20 303.0L511.40 281.7L511.60 266.8L511.80 240.6L512.00 255.7L512.20 290.2L512.40 282.8L512.60 297.9L512.80 294.8L513.00 287.7L513.20 257.9L513.40 235.0L513.60 262.7L513.80 313.7L514.00 252.4L514.20 289.5L514.40 271.1L514.60 312.0L514.80 269.1L515.00 320.0L515.20 297.4L515.40 292.7L515.60 230.6L515.80 314.8L516.00 272.5L516.20 303.4L516.40 288.2L516.60 318.1L516.80 243.5L517.00 237.0L517.20 300.6L517.40 236.0L517.60 262.3L517.80 265.6L518.00 237.6L518.20 279.4L518.40 254.9L518.60 247.3L518.80 269.7L519.00 302.9L519.20 226.0L519.40 225.5L519.60 277.3L519.80 262.5L520.00 256.8L520.20 297.7L520.40 296.2L520.60 305.9L520.80 273.2L521.00 231.7L521.20 247.4L521.40 287.0L521.60 282.0L521.80 235.6L522.00 291.8L522.20 265.1L522.40 250.0L522.60 306.0L522.80 294.4L523.00 275.9L523.20 247.4L523.40 309.1L523.60 251.8L523.80 299.3L524.00 287.3L524.20 310.3L524.40 248.0L524.60 319.9L524.80 307.5L525.00 322.0L525.20 300.2L525.40 311.3L525.60 284.4L525.80 313.3L526.00 270.4L526.20 296.5L526.40 268.9L526.60 293.9L526.80 282.3L527.00 294.9L527.20 251.4L527.40 264.0L527.60 277.1L527.80 325.4L528.00 250.0L528.20 258.4L528.40 257.5L528.60 307.8L528.80 295.1L529.00 332.4L529.20 253.6L529.40 384.5L529.60 258.1L529.80 326.2L530.00 261.8L530.20 296.9L530.40 320.8L530.60 298.0L530.80 286.3L531.00 336.8L531.20 260.2L531.40 302.7L531.60 285.1L531.80 266.0L532.00 245.0L532.20 348.0L532.40 265.3L532.60 335.6L532.80 248.8L533.00 292.9L533.20 249.1L533.40 337.3L533.60 253.3L533.80 335.6L534.00 301.4L534.20 290.2L534.40 268.0L534.60 248.4L534.80 327.3L535.00 335.0L535.20 292.4L535.40 248.9L535.60 264.8L535.80 272.9L536.00 235.0L536.20 266.9L536.40 237.1L536.60 264.8L536.80 269.9L537.00 263.9L537.20 251.7L537.40 273.4L537.60 234.1L537.80 314.2L538.00 290.2L538.20 358.0L538.40 251.4L538.60 279.0L538.80 273.0L539.00 288.3L539.20 277.6L539.40 279.3L539.60 300.1L539.80 321.0L540.00 215.0L540.20 301.3L540.40 265.3L540.60 269.2L540.80 233.2L541.00 330.0L541.20 280.9L541.40 259.9L541.60 217.6L541.80 257.2L542.00 194.0L542.20 298.3L542.40 216.7L542.60 266.8L542.80 239.9L543.00 314.2L543.20 244.4L543.40 216.6L543.60 312.3L543.80 288.2L544.00 235.6L544.20 276.2L544.40 320.6L544.60 198.0L544.80 274.4L545.00 296.2L545.20 297.7L545.40 323.5L545.60 279.3L545.80 299.5L546.00 226.2L546.20 192.8L546.40 253.6L546.60 307.5L546.80 242.9L547.00 307.2L547.20 295.1L547.40 285.0L547.60 248.6L547.80 306.7L548.00 256.3L548.20 223.0L548.40 232.6L548.60 313.6L548.80 256.1L549.00 233.2L549.20 272.6L549.40 329.0L549.60 238.9L549.80 242.6L550.00 270.5L550.20 293.2L550.40 250.2L550.60 303.2L550.80 261.8L551.00 237.5L551.20 276.4L551.40 313.6L551.60 284.5L551.80 298.4L552.00 236.0L552.20 276.2L552.40 239.6L552.60 312.6L552.80 326.0L553.00 282.5L553.20 276.6L553.40 317.1L553.60 270.9L553.80 317.2L554.00 274.6L554.20 313.7L554.40 278.6L554.60 267.8L554.80 240.0L555.00 322.0L555.20 289.0L555.40 299.9L555.60 255.4L555.80 289.7L556.00 282.5L556.20 294.3L556.40 275.5L556.60 313.8L556.80 229.5L557.00 294.2L557.20 219.9L557.40 235.1L557.60 237.4L557.80 271.2L558.00 216.3L558.20 214.6L558.40 230.3L558.60 210.0L558.80 289.5L559.00 274.7L559.20 223.2L559.40 288.9L559.60 260.6L559.80 274.2L560.00 249.8L560.20 266.7L560.40 237.3L560.60 263.8L560.80 259.2L561.00 232.5L561.20 320.5L561.40 268.0L561.60 252.1L561.80 289.2L562.00 241.9L562.20 314.5L562.40 263.0L562.60 291.8L562.80 300.1L563.00 297.4L563.20 251.2L563.40 295.5L563.60 266.9L563.80 312.3L564.00 314.7L564.20 251.2L564.40 251.3L564.60 306.2L564.80 285.2L565.00 238.0L565.20 271.5L565.40 315.0L565.60 267.5L565.80 314.6L566.00 280.1L566.20 309.5L566.40 265.9L566.60 287.8L566.80 286.1L567.00 318.0L567.20 255.3L567.40 236.9L567.60 269.1L567.80 301.7L568.00 260.1L568.20 283.0L568.40 257.8L568.60 280.2L568.80 264.2L569.00 282.3L569.20 270.1L569.40 269.5L569.60 235.6L569.80 265.5L570.00 235.0L570.20 330.0L570.40 235.9L570.60 271.9L570.80 227.6L571.00 232.7L571.20 296.9L571.40 225.0L571.60 322.4L571.80 311.8L572.00 231.4L572.20 321.7L572.40 256.8L572.60 194.0L572.80 364.4L573.00 295.7L573.20 277.4L573.40 289.2L573.60 268.8L573.80 289.6L574.00 232.0L574.20 281.8L574.40 235.3L574.60 308.3L574.80 266.0L575.00 335.0L575.20 257.1L575.40 306.8L575.60 256.0L575.80 309.3L576.00 296.9L576.20 327.7L576.40 283.5L576.60 292.3L576.80 303.6L577.00 333.3L577.20 330.1L577.40 321.6L577.60 252.3L577.80 308.1L578.00 252.5L578.20 271.8L578.40 270.8L578.60 314.3L578.80 245.7L579.00 315.1L579.20 275.8L579.40 289.0L579.60 291.0L579.80 290.1L580.00 238.0L580.20 312.9L580.40 323.9L580.60 284.4L580.80 236.2L581.00 325.5L581.20 254.0L581.40 244.6L581.60 247.0L581.80 262.4L582.00 237.6L582.20 302.4L582.40 258.2L582.60 277.9L582.80 294.7L583.00 264.0L583.20 255.3L583.40 239.1L583.60 294.8L583.80 280.5L584.00 267.0L584.20 314.2L584.40 234.1L584.60 281.9L584.80 328.0L585.00 232.0L585.20 272.3L585.40 237.0L585.60 260.7L585.80 275.5L586.00 245.5L586.20 236.1L586.40 259.1L586.60 245.7L586.80 268.0L587.00 277.6L587.20 271.6L587.40 330.6L587.60 262.0L587.80 293.5L588.00 276.3L588.20 254.9L588.40 252.2L588.60 288.2L588.80 258.4L589.00 284.1L589.20 271.5L589.40 295.3L589.60 295.8L589.80 281.4L590.00 227.5L590.20 325.0L590.40 226.2L590.60 296.2L590.80 229.2L591.00 293.5L591.20 288.7L591.40 277.1L591.60 274.1L591.80 241.0L592.00 224.4L592.20 225.8L592.40 224.3L592.60 215.0L592.80 235.1L593.00 315.4L593.20 255.7L593.40 286.3L593.60 249.6L593.80 282.2L594.00 308.7L594.20 198.0L594.40 222.9L594.60 308.0L594.80 230.0L595.00 333.0L595.20 229.9L595.40 312.2L595.60 287.6L595.80 294.3L596.00 225.0L596.20 300.7L596.40 269.9L596.60 271.7L596.80 261.2L597.00 309.3L597.20 269.3L597.40 256.3L597.60 283.5L597.80 305.2L598.00 243.8L598.20 329.7L598.40 240.0L598.60 282.3L598.80 251.0L599.00 248.3L599.20 261.3L599.40 291.5L599.60 287.9L599.80 330.9L600.00 245.0L600.20 343.0L600.40 244.6L600.60 323.1L600.80 347.7L601.00 340.4L601.20 269.1L601.40 400.0L601.60 306.5L601.80 363.8L602.00 293.6L602.20 295.3L602.40 295.0L602.60 364.1L602.80 330.5L603.00 307.5L603.20 295.2L603.40 462.0L603.60 301.9L603.80 375.5L604.00 298.2L604.20 379.2L604.40 256.9L604.60 318.4L604.80 288.9L605.00 445.0L605.20 309.5L605.40 383.3L605.60 343.7L605.80 352.6L606.00 307.9L606.20 360.0L606.40 369.0L606.60 409.1L606.80 415.4L607.00 400.9L607.20 312.2L607.40 365.2L607.60 341.8L607.80 408.7L608.00 382.8L608.20 339.9L608.40 462.0L608.60 383.0L608.80 310.1L609.00 274.3L609.20 328.9L609.40 391.1L609.60 333.9L609.80 422.7L610.00 262.0L610.20 445.0L610.40 418.5L610.60 444.5L610.80 337.4L611.00 317.1L611.20 325.9L611.40 379.9L611.60 326.5L611.80 419.7L612.00 263.7L612.20 390.5L612.40 350.0L612.60 301.1L612.80 460.6L613.00 331.9L613.20 322.7L613.40 420.1L613.60 331.0L613.80 311.8L614.00 299.9L614.20 422.1L614.40 343.8L614.60 370.0L614.80 285.2L615.00 425.0L615.20 406.3L615.40 404.4L615.60 286.3L615.80 385.6L616.00 281.7L616.20 422.7L616.40 313.5L616.60 341.6L616.80 311.7L617.00 315.1L617.20 311.3L617.40 320.3L617.60 343.4L617.80 467.0L618.00 364.9L618.20 371.1L618.40 366.0L618.60 451.0L618.80 373.0L619.00 433.5L619.20 401.2L619.40 366.1L619.60 281.0L619.80 357.0L620.00 275.0L620.20 450.0L620.40 417.6L620.60 460.6L620.80 393.9L621.00 335.4L621.20 363.6L621.40 403.7L621.60 462.7L621.80 457.3L622.00 341.0L622.20 447.8L622.40 318.5L622.60 332.8L622.80 478.0L623.00 425.3L623.20 373.4L623.40 435.3L623.60 407.9L623.80 414.0L624.00 315.9L624.20 330.2L624.40 335.0L624.60 484.0L624.80 281.1L625.00 350.1L625.20 373.2L625.40 347.8L625.60 349.9L625.80 418.1L626.00 332.3L626.20 501.8L626.40 347.7L626.60 443.8L626.80 367.2L627.00 385.8L627.20 358.6L627.40 444.7L627.60 400.9L627.80 476.0L628.00 374.3L628.20 390.9L628.40 307.8L628.60 425.0L628.80 284.8L629.00 450.0L629.20 342.5L629.40 346.4L629.60 339.0L629.80 291.5L630.00 285.0L630.20 425.0L630.40 322.1L630.60 289.9L630.80 325.7L631.00 302.9L631.20 285.3L631.40 403.0L631.60 379.4L631.80 362.3L632.00 290.7L632.20 394.7L632.40 288.0L632.60 393.6L632.80 318.0L633.00 392.2L633.20 311.0L633.40 384.2L633.60 360.3L633.80 389.0L634.00 398.0L634.20 382.4L634.40 367.3L634.60 394.2L634.80 329.0L635.00 331.1L635.20 371.3L635.40 383.1L635.60 325.1L635.80 348.7L636.00 368.5L636.20 357.2L636.40 317.4L636.60 403.0L636.80 339.2L637.00 312.3L637.20 297.1L637.40 366.7L637.60 328.8L637.80 354.3L638.00 325.8L638.20 337.9L638.40 330.3L638.60 390.5L638.80 301.8L639.00 421.6L639.20 363.9L639.40 352.7L639.60 376.6L639.80 358.4L640.00 300.0L640.20 304.8L640.40 338.2L640.60 299.9L640.80 301.8L641.00 418.0L641.20 325.2L641.40 332.2L641.60 328.9L641.80 374.6L642.00 338.8L642.20 373.0L642.40 354.5L642.60 340.9L642.80 365.7L643.00 375.0L643.20 326.8L643.40 337.6L643.60 332.8L643.80 358.4L644.00 354.5L644.20 326.7L644.40 352.4L644.60 344.4L644.80 353.5L645.00 315.0L645.20 347.3L645.40 357.0L645.60 334.6L645.80 340.6L646.00 343.2L646.20 357.8L646.40 330.3L646.60 353.4L646.80 332.4L647.00 323.0L647.20 349.6L647.40 339.3L647.60 334.5L647.80 353.3L648.00 320.0L648.20 370.0L648.40 328.3L648.60 360.3L648.80 344.7L649.00 348.7L649.20 340.8L649.40 353.5L649.60 336.9L649.80 352.7L650.00 349.9L650.20 335.5L650.40 394.0L650.60 337.1L650.80 338.2" stroke="#0072BD"/>
<path d="M65.80 266.6L66.30 266.9L66.80 265.4L67.30 266.9L67.80 266.6L68.30 267.5L68.80 267.3L69.30 267.9L69.80 266.1L70.30 266.8L70.80 270.4L71.30 268.5L71.80 266.6L72.30 266.0L72.80 266.0L73.30 263.5L73.80 264.7L74.30 266.0L74.80 268.2L75.30 270.0L75.80 269.5L76.30 266.8L76.80 268.6L77.30 265.4L77.80 261.1L78.30 261.4L78.80 261.0L79.30 261.1L79.80 260.6L80.30 261.4L80.80 259.8L81.30 259.8L81.80 259.6L82.30 261.6L82.80 261.1L83.30 261.6L83.80 264.0L84.30 259.8L84.80 259.7L85.30 259.3L85.80 259.7L86.30 261.7L86.80 261.0L87.30 257.6L87.80 260.3L88.30 261.4L88.80 261.4L89.30 261.0L89.80 261.1L90.30 263.3L90.80 260.3L91.30 262.1L91.80 261.9L92.30 261.9L92.80 263.5L93.30 259.7L93.80 260.3L94.30 261.8L94.80 262.1L95.30 262.3L95.80 260.7L96.30 260.8L96.80 263.5L97.30 262.6L97.80 262.4L98.30 263.3L98.80 264.3L99.30 261.8L99.80 257.7L100.30 260.0L100.80 261.3L101.30 262.4L101.80 262.9L102.30 260.9L102.80 260.2L103.30 260.8L103.80 259.1L104.30 260.4L104.80 261.4L105.30 262.9L105.80 264.3L106.30 263.3L106.80 262.4L107.30 263.7L107.80 262.7L108.30 264.5L108.80 263.8L109.30 259.9L109.80 261.1L110.30 264.0L110.80 262.5L111.30 260.9L111.80 263.9L112.30 263.0L112.80 262.4L113.30 261.6L113.80 262.8L114.30 262.3L114.80 262.4L115.30 261.7L115.80 262.3L116.30 263.0L116.80 261.7L117.30 260.4L117.80 255.1L118.30 261.4L118.80 260.2L119.30 260.0L119.80 260.6L120.30 262.3L120.80 259.4L121.30 258.6L121.80 262.2L122.30 261.8L122.80 263.6L123.30 261.3L123.80 260.0L124.30 261.9L124.80 261.3L125.30 261.8L125.80 261.6L126.30 263.8L126.80 261.2L127.30 261.7L127.80 261.3L128.30 260.1L128.80 260.7L129.30 260.8L129.80 262.3L130.30 261.2L130.80 271.4L131.30 262.4L131.80 260.6L132.30 261.0L132.80 261.7L133.30 260.2L133.80 259.8L134.30 259.9L134.80 261.3L135.30 263.3L135.80 257.9L136.30 260.7L136.80 261.6L137.30 260.0L137.80 264.2L138.30 261.6L138.80 259.6L139.30 262.6L139.80 261.4L140.30 263.5L140.80 262.0L141.30 263.6L141.80 260.9L142.30 262.1L142.80 263.1L143.30 261.5L143.80 260.3L144.30 261.2L144.80 261.9L145.30 261.5L145.80 262.6L146.30 263.6L146.80 260.5L147.30 259.6L147.80 260.3L148.30 259.8L148.80 260.5L149.30 261.3L149.80 254.1L150.30 262.5L150.80 262.1L151.30 260.3L151.80 261.7L152.30 260.2L152.80 262.7L153.30 261.2L153.80 262.1L154.30 263.1L154.80 261.8L155.30 260.9L155.80 261.1L156.30 260.4L156.80 261.0L157.30 263.6L157.80 261.4L158.30 262.1L158.80 263.0L159.30 263.3L159.80 262.9L160.30 260.3L160.80 260.8L161.30 261.2L161.80 261.3L162.30 262.7L162.80 262.8L163.30 262.6L163.80 260.9L164.30 261.0L164.80 260.4L165.30 262.4L165.80 263.6L166.30 261.0L166.80 260.2L167.30 262.2L167.80 271.0L168.30 255.0L168.80 262.3L169.30 262.4L169.80 261.6L170.30 260.6L170.80 259.6L171.30 261.1L171.80 263.1L172.30 259.6L172.80 263.4L173.30 261.5L173.80 262.7L174.30 260.4L174.80 260.3L175.30 259.8L175.80 261.8L176.30 262.0L176.80 261.3L177.30 261.6L177.80 262.1L178.30 261.2L178.80 263.2L179.30 260.6L179.80 261.8L180.30 262.2L180.80 260.9L181.30 261.4L181.80 264.2L182.30 260.7L182.80 261.4L183.30 260.2L183.80 262.5L184.30 260.5L184.80 261.4L185.30 261.0L185.80 262.7L186.30 261.9L186.80 263.5L187.30 263.3L187.80 261.4L188.30 262.1L188.80 263.1L189.30 258.8L189.80 259.1L190.30 263.4L190.80 260.3L191.30 265.1L191.80 263.4L192.30 259.5L192.80 263.1L193.30 261.8L193.80 262.3L194.30 262.9L194.80 255.1L195.30 261.7L195.80 262.2L196.30 259.8L196.80 261.3L197.30 262.3L197.80 261.5L198.30 262.0L198.80 261.8L199.30 259.8L199.80 261.1L200.30 260.3L200.80 262.8L201.30 263.6L201.80 262.6L202.30 260.2L202.80 262.4L203.30 263.9L203.80 263.0L204.30 263.2L204.80 269.5L205.30 261.3L205.80 262.7L206.30 263.7L206.80 262.5L207.30 262.9L207.80 262.8L208.30 265.6L208.80 264.3L209.30 263.3L209.80 263.0L210.30 261.3L210.80 263.4L211.30 264.6L211.80 262.6L212.30 263.7L212.80 264.6L213.30 262.4L213.80 260.7L214.30 262.5L214.80 262.3L215.30 265.5L215.80 262.4L216.30 262.2L216.80 263.3L217.30 261.7L217.80 262.2L218.30 262.1L218.80 262.0L219.30 262.9L219.80 262.4L220.30 259.9L220.80 263.7L221.30 261.8L221.80 262.9L222.30 262.4L222.80 263.2L223.30 264.4L223.80 262.9L224.30 262.8L224.80 263.4L225.30 262.8L225.80 265.0L226.30 271.8L226.80 253.1L227.30 266.0L227.80 262.6L228.30 264.3L228.80 262.4L229.30 262.7L229.80 264.3L230.30 263.7L230.80 261.8L231.30 262.9L231.80 264.5L232.30 263.1L232.80 265.5L233.30 265.0L233.80 264.7L234.30 262.3L234.80 262.6L235.30 260.5L235.80 266.0L236.30 263.3L236.80 262.1L237.30 263.7L237.80 262.2L238.30 262.6L238.80 262.1L239.30 263.6L239.80 262.0L240.30 262.7L240.80 263.4L241.30 262.1L241.80 262.2L242.30 264.6L242.80 263.6L243.30 264.7L243.80 265.2L244.30 265.5L244.80 265.2L245.30 262.1L245.80 264.8L246.30 262.9L246.80 262.4L247.30 264.1L247.80 266.2L248.30 266.0L248.80 265.2L249.30 264.5L249.80 264.5L250.30 260.0L250.80 258.6L251.30 263.3L251.80 266.9L252.30 263.7L252.80 260.8L253.30 262.3L253.80 262.5L254.30 260.8L254.80 254.1L255.30 268.6L255.80 263.9L256.30 258.9L256.80 264.5L257.30 265.8L257.80 265.5L258.30 260.1L258.80 257.9L259.30 270.5L259.80 261.0L260.30 260.5L260.80 264.9L261.30 265.8L261.80 271.5L262.30 259.7L262.80 261.5L263.30 258.8L263.80 262.9L264.30 259.6L264.80 271.5L265.30 268.1L265.80 264.8L266.30 264.6L266.80 268.3L267.30 260.9L267.80 261.3L268.30 261.0L268.80 262.8L269.30 270.7L269.80 255.5L270.30 258.7L270.80 258.3L271.30 260.4L271.80 257.3L272.30 256.9L272.80 260.1L273.30 264.6L273.80 262.6L274.30 262.3L274.80 266.4L275.30 264.9L275.80 264.5L276.30 262.9L276.80 265.1L277.30 262.7L277.80 261.5L278.30 262.0L278.80 263.4L279.30 264.7L279.80 261.0L280.30 262.2L280.80 259.3L281.30 256.3L281.80 260.2L282.30 269.4L282.80 264.7L283.30 264.9L283.80 265.5L284.30 263.2L284.80 264.5L285.30 261.2L285.80 261.4L286.30 261.0L286.80 260.0L287.30 263.1L287.80 265.0L288.30 266.0L288.80 269.2L289.30 266.6L289.80 273.4L290.30 266.3L290.80 262.5L291.30 261.7L291.80 265.8L292.30 265.3L292.80 265.6L293.30 263.4L293.80 265.9L294.30 262.7L294.80 263.5L295.30 264.2L295.80 264.9L296.30 266.0L296.80 261.9L297.30 261.7L297.80 267.8L298.30 264.3L298.80 267.6L299.30 266.8L299.80 260.7L300.30 266.4L300.80 263.3L301.30 264.5L301.80 264.7L302.30 264.9L302.80 261.1L303.30 263.5L303.80 267.4L304.30 266.0L304.80 267.4L305.30 267.1L305.80 263.6L306.30 264.6L306.80 266.8L307.30 265.8L307.80 263.1L308.30 265.1L308.80 264.5L309.30 262.4L309.80 262.5L310.30 265.7L310.80 265.4L311.30 262.2L311.80 263.0L312.30 263.9L312.80 264.0L313.30 264.2L313.80 263.2L314.30 265.3L314.80 261.1L315.30 263.1L315.80 264.0L316.30 264.4L316.80 263.7L317.30 264.5L317.80 269.3L318.30 264.0L318.80 267.2L319.30 265.0L319.80 269.8L320.30 263.3L320.80 267.0L321.30 264.0L321.80 263.8L322.30 264.4L322.80 261.0L323.30 264.5L323.80 264.5L324.30 262.7L324.80 263.7L325.30 265.0L325.80 263.7L326.30 266.5L326.80 264.2L327.30 268.1L327.80 265.4L328.30 263.2L328.80 266.4L329.30 265.4L329.80 262.5L330.30 267.8L330.80 265.0L331.30 265.4L331.80 268.9L332.30 264.1L332.80 264.0L333.30 265.2L333.80 261.5L334.30 265.5L334.80 262.8L335.30 265.3L335.80 264.9L336.30 262.2L336.80 262.2L337.30 266.4L337.80 263.4L338.30 265.0L338.80 265.3L339.30 266.3L339.80 264.5L340.30 263.5L340.80 266.0L341.30 265.4L341.80 265.9L342.30 263.3L342.80 266.5L343.30 264.9L343.80 264.0L344.30 265.2L344.80 263.9L345.30 261.5L345.80 262.8L346.30 263.7L346.80 263.2L347.30 263.2L347.80 262.3L348.30 261.6L348.80 262.7L349.30 263.5L349.80 263.7L350.30 263.9L350.80 262.6L351.30 262.4L351.80 262.2L352.30 262.1L352.80 262.3L353.30 263.1L353.80 263.0L354.30 265.4L354.80 263.3L355.30 262.5L355.80 264.2L356.30 265.7L356.80 263.9L357.30 262.3L357.80 264.8L358.30 263.0L358.80 264.2L359.30 263.6L359.80 263.2L360.30 265.6L360.80 265.0L361.30 264.9L361.80 265.3L362.30 263.6L362.80 265.1L363.30 265.7L363.80 266.1L364.30 263.1L364.80 264.7L365.30 262.7L365.80 261.3L366.30 264.1L366.80 264.6L367.30 262.5L367.80 264.4L368.30 264.1L368.80 265.7L369.30 267.3L369.80 267.1L370.30 265.7L370.80 264.0L371.30 263.9L371.80 269.7L372.30 263.0L372.80 264.4L373.30 264.7L373.80 266.4L374.30 266.0L374.80 262.9L375.30 267.4L375.80 263.8L376.30 263.3L376.80 261.5L377.30 263.8L377.80 266.9L378.30 264.1L378.80 264.9L379.30 265.2L379.80 266.1L380.30 264.4L380.80 264.4L381.30 266.3L381.80 266.4L382.30 264.6L382.80 265.4L383.30 266.1L383.80 265.2L384.30 264.0L384.80 266.9L385.30 265.5L385.80 264.2L386.30 263.0L386.80 262.1L387.30 263.2L387.80 264.5L388.30 263.5L388.80 266.4L389.30 263.0L389.80 266.0L390.30 263.2L390.80 262.6L391.30 263.0L391.80 256.9L392.30 265.2L392.80 268.9L393.30 265.3L393.80 264.4L394.30 263.5L394.80 263.7L395.30 266.4L395.80 263.0L396.30 263.6L396.80 264.4L397.30 266.0L397.80 261.6L398.30 264.1L398.80 264.5L399.30 262.7L399.80 264.6L400.30 265.2L400.80 266.9L401.30 265.6L401.80 265.5L402.30 266.1L402.80 266.4L403.30 263.6L403.80 265.1L404.30 264.6L404.80 265.1L405.30 266.5L405.80 264.4L406.30 263.1L406.80 264.4L407.30 262.9L407.80 266.9L408.30 267.1L408.80 264.4L409.30 265.7L409.80 263.8L410.30 265.4L410.80 264.4L411.30 267.4L411.80 265.4L412.30 264.9L412.80 266.1L413.30 264.6L413.80 266.0L414.30 264.6L414.80 265.2L415.30 268.4L415.80 262.7L416.30 267.0L416.80 265.4L417.30 266.9L417.80 265.0L418.30 266.0L418.80 264.4L419.30 267.3L419.80 271.1L420.30 264.2L420.80 261.8L421.30 262.5L421.80 266.0L422.30 263.4L422.80 263.4L423.30 265.3L423.80 265.2L424.30 265.4L424.80 265.2L425.30 267.6L425.80 263.3L426.30 264.0L426.80 264.7L427.30 265.2L427.80 266.1L428.30 264.7L428.80 266.2L429.30 265.6L429.80 269.9L430.30 265.7L430.80 268.1L431.30 266.1L431.80 266.1L432.30 266.1L432.80 267.0L433.30 264.8L433.80 265.5L434.30 264.4L434.80 261.5L435.30 266.9L435.80 264.0L436.30 263.9L436.80 262.9L437.30 264.5L437.80 265.2L438.30 266.3L438.80 265.1L439.30 265.0L439.80 263.3L440.30 263.7L440.80 264.8L441.30 261.9L441.80 263.6L442.30 264.5L442.80 266.8L443.30 262.7L443.80 263.9L444.30 266.7L444.80 263.1L445.30 268.6L445.80 265.4L446.30 265.3L446.80 264.4L447.30 260.8L447.80 263.4L448.30 261.5L448.80 263.2L449.30 263.5L449.80 263.7L450.30 265.1L450.80 264.9L451.30 266.1L451.80 260.1L452.30 263.8L452.80 265.2L453.30 264.2L453.80 265.5L454.30 264.6L454.80 265.1L455.30 266.3L455.80 262.6L456.30 265.3L456.80 264.0L457.30 265.5L457.80 265.4L458.30 263.0L458.80 265.4L459.30 266.5L459.80 263.6L460.30 264.7L460.80 266.8L461.30 260.9L461.80 263.0L462.30 266.1L462.80 264.0L463.30 264.2L463.80 262.8L464.30 260.8L464.80 265.2L465.30 265.3L465.80 266.1L466.30 265.8L466.80 264.1L467.30 262.6L467.80 265.2L468.30 266.7L468.80 264.9L469.30 265.4L469.80 267.4L470.30 264.5L470.80 264.8L471.30 266.9L471.80 264.8L472.30 263.9L472.80 264.4L473.30 265.8L473.80 263.3L474.30 263.9L474.80 264.1L475.30 262.8L475.80 263.5L476.30 264.5L476.80 264.2L477.30 263.8L477.80 263.8L478.30 265.0L478.80 263.6L479.30 263.9L479.80 262.7L480.30 262.1L480.80 270.8L481.30 262.1L481.80 254.4L482.30 264.9L482.80 262.5L483.30 262.5L483.80 263.0L484.30 262.2L484.80 261.4L485.30 261.6L485.80 262.8L486.30 264.2L486.80 263.7L487.30 264.1L487.80 261.0L488.30 262.6L488.80 263.1L489.30 261.1L489.80 264.0L490.30 262.5L490.80 262.1L491.30 262.1L491.80 262.8L492.30 261.0L492.80 264.3L493.30 263.5L493.80 262.8L494.30 262.7L494.80 264.3L495.30 262.3L495.80 264.3L496.30 263.7L496.80 261.7L497.30 262.7L497.80 271.7L498.30 264.9L498.80 264.8L499.30 262.4L499.80 263.7L500.30 261.0L500.80 262.6L501.30 263.9L501.80 262.4L502.30 263.2L502.80 261.7L503.30 261.8L503.80 261.9L504.30 262.1L504.80 262.1L505.30 262.6L505.80 261.2L506.30 260.7L506.80 263.5L507.30 260.1L507.80 260.9L508.30 261.5L508.80 263.8L509.30 263.2L509.80 266.1L510.30 261.8L510.80 261.2L511.30 261.2L511.80 259.5L512.30 262.2L512.80 260.0L513.30 260.7L513.80 262.7L514.30 262.3L514.80 263.2L515.30 263.8L515.80 263.3L516.30 262.2L516.80 260.6L517.30 261.7L517.80 260.4L518.30 260.0L518.80 259.8L519.30 263.3L519.80 260.6L520.30 263.3L520.80 262.0L521.30 261.6L521.80 262.1L522.30 264.1L522.80 260.5L523.30 262.1L523.80 260.9L524.30 260.3L524.80 258.6L525.30 260.0L525.80 260.5L526.30 261.8L526.80 262.6L527.30 261.7L527.80 261.2L528.30 263.2L528.80 260.4L529.30 261.9L529.80 255.6L530.30 263.2L530.80 263.2L531.30 262.2L531.80 262.6L532.30 262.4L532.80 260.9L533.30 263.0L533.80 261.0L534.30 260.8L534.80 261.9L535.30 259.9L535.80 260.5L536.30 263.8L536.80 261.6L537.30 260.4L537.80 260.4L538.30 262.2L538.80 261.4L539.30 260.3L539.80 262.4L540.30 259.5L540.80 262.9L541.30 262.4L541.80 263.1L542.30 258.7L542.80 261.3L543.30 262.6L543.80 261.2L544.30 259.9L544.80 267.5L545.30 259.0L545.80 261.1L546.30 261.6L546.80 260.2L547.30 260.4L547.80 261.4L548.30 261.5L548.80 260.8L549.30 259.8L549.80 259.1L550.30 260.0L550.80 260.2L551.30 259.2L551.80 263.6L552.30 260.2L552.80 260.2L553.30 261.1L553.80 259.1L554.30 259.7L554.80 261.5L555.30 260.2L555.80 262.6L556.30 261.0L556.80 262.1L557.30 262.9L557.80 261.9L558.30 260.2L558.80 259.9L559.30 260.9L559.80 259.9L560.30 259.2L560.80 261.9L561.30 261.9L561.80 260.7L562.30 260.4L562.80 259.4L563.30 259.4L563.80 259.5L564.30 259.3L564.80 259.7L565.30 259.5L565.80 260.9L566.30 259.0L566.80 262.1L567.30 263.1L567.80 260.3L568.30 258.6L568.80 261.4L569.30 261.6L569.80 261.1L570.30 259.6L570.80 260.6L571.30 257.5L571.80 260.4L572.30 259.2L572.80 261.2L573.30 258.9L573.80 262.5L574.30 262.8L574.80 261.9L575.30 261.0L575.80 264.7L576.30 258.8L576.80 260.7L577.30 260.3L577.80 259.2L578.30 260.0L578.80 260.0L579.30 261.3L579.80 260.5L580.30 262.1L580.80 261.0L581.30 259.3L581.80 261.2L582.30 257.3L582.80 257.9L583.30 259.3L583.80 260.8L584.30 262.0L584.80 261.2L585.30 260.8L585.80 260.5L586.30 258.3L586.80 260.0L587.30 261.5L587.80 260.6L588.30 259.2L588.80 260.2L589.30 259.6L589.80 258.5L590.30 260.6L590.80 259.6L591.30 258.2L591.80 259.3L592.30 258.2L592.80 258.3L593.30 259.0L593.80 259.1L594.30 258.0L594.80 257.7L595.30 259.2L595.80 259.2L596.30 260.5L596.80 260.0L597.30 258.8L597.80 260.4L598.30 258.4L598.80 259.3L599.30 260.8L599.80 259.4L600.30 257.0L600.80 257.2L601.30 259.6L601.80 257.1L602.30 259.1L602.80 259.7L603.30 260.1L603.80 259.5L604.30 260.2L604.80 259.4L605.30 259.4L605.80 260.6L606.30 258.9L606.80 259.5L607.30 261.0L607.80 260.4L608.30 259.2L608.80 259.1L609.30 259.7L609.80 252.1L610.30 258.2L610.80 264.6L611.30 260.3L611.80 258.1L612.30 261.5L612.80 260.6L613.30 260.2L613.80 259.9L614.30 260.3L614.80 260.9L615.30 260.5L615.80 261.0L616.30 260.3L616.80 258.9L617.30 260.2L617.80 260.8L618.30 260.2L618.80 259.3L619.30 259.7L619.80 260.8L620.30 258.6L620.80 261.4L621.30 260.2L621.80 257.1L622.30 258.3L622.80 259.9L623.30 258.6L623.80 259.6L624.30 261.1L624.80 260.9L625.30 258.7L625.80 261.3L626.30 261.6L626.80 259.0L627.30 260.6L627.80 259.2L628.30 258.3L628.80 262.2L629.30 262.5L629.80 260.0L630.30 258.6L630.80 262.7L631.30 260.1L631.80 261.1L632.30 259.0L632.80 261.3L633.30 261.8L633.80 261.0L634.30 261.7L634.80 260.7L635.30 260.9L635.80 252.6L636.30 259.2L636.80 257.6L637.30 260.0L637.80 260.0L638.30 259.2L638.80 262.6L639.30 261.1L639.80 264.9L640.30 262.6L640.80 260.5L641.30 260.9L641.80 262.6L642.30 263.3L642.80 264.2L643.30 262.3L643.80 264.2L644.30 262.6L644.80 264.1L645.30 262.6L645.80 262.7L646.30 263.2L646.80 262.9L647.30 263.1L647.80 264.2L648.30 262.2L648.80 264.0L649.30 263.8L649.80 270.8L650.30 264.7L650.80 264.5" stroke="#000" stroke-width="1.3"/>
<path d="M65.80 256.7L66.00 255.9L66.20 256.9L66.40 257.9L66.60 256.4L66.80 253.9L67.00 252.2L67.20 250.4L67.40 249.5L67.60 244.4L67.80 244.0L68.00 241.3L68.20 237.8L68.40 235.1L68.60 235.5L68.80 232.1L69.00 229.1L69.20 227.1L69.40 225.2L69.60 221.2L69.80 220.1L70.00 214.9L70.20 211.4L70.40 209.2L70.60 205.3L70.80 203.1L71.00 202.1L71.20 199.8L71.40 195.7L71.60 192.3L71.80 188.2L72.00 185.2L72.20 184.5L72.40 182.5L72.60 179.7L72.80 178.5L73.00 179.9L73.20 179.4L73.40 179.7L73.60 181.3L73.80 186.1L74.00 188.6L74.20 192.1L74.40 193.5L74.60 197.1L74.80 200.4L75.00 203.7L75.20 210.0L75.40 214.1L75.60 217.3L75.80 224.6L76.00 230.3L76.20 235.4L76.40 239.4L76.60 247.7L76.80 251.7L77.00 253.3L77.20 258.5L77.40 256.7L77.60 255.7L77.80 259.9L78.00 270.0L78.20 259.0L78.40 254.5L78.60 259.3L78.80 257.5L79.00 262.4L79.20 261.7L79.40 272.0L79.60 254.1L79.80 273.6L80.00 250.7L80.20 279.0L80.40 258.5L80.60 265.0L80.80 255.4L81.00 254.5L81.20 256.1L81.40 273.1L81.60 267.0L81.80 270.7L82.00 263.1L82.20 276.9L82.40 273.7L82.60 260.7L82.80 270.8L83.00 269.1L83.20 272.5L83.40 272.1L83.60 274.8L83.80 271.9L84.00 262.9L84.20 263.6L84.40 262.8L84.60 270.1L84.80 250.0L85.00 243.0L85.20 280.0L85.40 263.4L85.60 261.4L85.80 274.0L86.00 250.3L86.20 259.7L86.40 267.0L86.60 274.4L86.80 256.2L87.00 264.4L87.20 252.0L87.40 266.0L87.60 251.9L87.80 248.0L88.00 275.0L88.20 263.9L88.40 251.0L88.60 265.7L88.80 260.0L89.00 271.0L89.20 259.7L89.40 260.9L89.60 253.3L89.80 258.8L90.00 253.0L90.20 268.0L90.40 255.9L90.60 266.4L90.80 258.8L91.00 259.2L91.20 254.5L91.40 257.9L91.60 245.8L91.80 244.4L92.00 268.0L92.20 253.9L92.40 250.3L92.60 263.0L92.80 240.6L93.00 237.3L93.20 246.3L93.40 259.2L93.60 235.4L93.80 265.2L94.00 242.0L94.20 254.8L94.40 232.4L94.60 256.4L94.80 224.3L95.00 264.0L95.20 254.6L95.40 242.8L95.60 231.0L95.80 254.3L96.00 235.2L96.20 240.1L96.40 240.0L96.60 238.0L96.80 238.3L97.00 249.0L97.20 245.9L97.40 251.2L97.60 249.9L97.80 248.7L98.00 258.9L98.20 244.1L98.40 249.6L98.60 246.8L98.80 247.6L99.00 245.6L99.20 246.9L99.40 249.7L99.60 243.5L99.80 253.0L100.00 262.0L100.20 258.2L100.40 254.8L100.60 243.4L100.80 241.1L101.00 260.6L101.20 241.5L101.40 238.0L101.60 251.2L101.80 260.4L102.00 240.3L102.20 259.8L102.40 246.9L102.60 261.8L102.80 253.6L103.00 260.8L103.20 235.6L103.40 252.1L103.60 246.4L103.80 248.8L104.00 241.4L104.20 254.0L104.40 241.2L104.60 252.5L104.80 261.6L105.00 262.0L105.20 204.0L105.40 243.3L105.60 246.8L105.80 261.3L106.00 243.8L106.20 258.3L106.40 234.4L106.60 256.9L106.80 251.8L107.00 262.4L107.20 238.7L107.40 263.8L107.60 250.7L107.80 230.6L108.00 266.0L108.20 234.5L108.40 241.7L108.60 268.0L108.80 268.5L109.00 267.7L109.20 252.1L109.40 270.6L109.60 253.3L109.80 270.0L110.00 272.0L110.20 225.5L110.40 233.4L110.60 249.9L110.80 235.3L111.00 248.8L111.20 228.7L111.40 260.8L111.60 224.6L111.80 248.0L112.00 224.5L112.20 260.5L112.40 265.4L112.60 243.4L112.80 213.0L113.00 255.2L113.20 234.4L113.40 259.9L113.60 209.6L113.80 251.2L114.00 278.0L114.20 262.4L114.40 227.8L114.60 252.1L114.80 262.9L115.00 249.7L115.20 230.0L115.40 203.0L115.60 260.3L115.80 252.0L116.00 253.5L116.20 250.7L116.40 237.0L116.60 295.0L116.80 249.6L117.00 203.9L117.20 215.0L117.40 204.7L117.60 233.0L117.80 174.0L118.00 215.2L118.20 232.8L118.40 233.4L118.60 238.9L118.80 239.2L119.00 343.0L119.20 238.3L119.40 247.2L119.60 217.4L119.80 281.2L120.00 262.9L120.20 213.0L120.40 297.1L120.60 271.1L120.80 243.8L121.00 266.5L121.20 240.3L121.40 291.4L121.60 375.6L121.80 281.6L122.00 253.6L122.20 175.0L122.40 252.2L122.60 244.6L122.80 440.3L123.00 266.0L123.20 260.6L123.40 296.9L123.60 240.7L123.80 270.0L124.00 345.0L124.20 218.0L124.40 289.9L124.60 294.7L124.80 235.4L125.00 306.4L125.20 235.8L125.40 297.4L125.60 243.5L125.80 285.1L126.00 253.4L126.20 294.4L126.40 229.0L126.60 193.0L126.80 307.7L127.00 237.5L127.20 235.0L127.40 261.6L127.60 210.8L127.80 277.2L128.00 238.7L128.20 283.0L128.40 160.0L128.60 276.3L128.80 297.8L129.00 302.7L129.20 268.6L129.40 259.1L129.60 21.8L129.80 269.8L130.00 217.7L130.20 247.3L130.40 195.9L130.60 267.3L130.80 225.8L131.00 218.1L131.20 184.0L131.40 275.0L131.60 188.0L131.80 252.2L132.00 226.0L132.20 234.1L132.40 207.1L132.60 175.0L132.80 210.8L133.00 312.7L133.20 202.6L133.40 233.5L133.60 220.6L133.80 243.9L134.00 220.6L134.20 156.4L134.40 278.0L134.60 260.7L134.80 300.3L135.00 294.2L135.20 193.7L135.40 295.0L135.60 215.1L135.80 296.4L136.00 257.4L136.20 240.7L136.40 232.5L136.60 180.0L136.80 236.7L137.00 274.0L137.20 205.7L137.40 226.5L137.60 262.6L137.80 256.1L138.00 297.7L138.20 246.2L138.40 207.7L138.60 278.9L138.80 210.3L139.00 132.0L139.20 178.7L139.40 166.8L139.60 240.2L139.80 60.8L140.00 247.3L140.20 297.2L140.40 305.0L140.60 254.2L140.80 143.0L141.00 145.0L141.20 272.6L141.40 267.5L141.60 296.9L141.80 257.5L142.00 260.1L142.20 284.2L142.40 264.6L142.60 261.6L142.80 193.2L143.00 167.7L143.20 280.8L143.40 285.5L143.60 214.5L143.80 275.9L144.00 182.5L144.20 285.0L144.40 223.9L144.60 139.5L144.80 261.2L145.00 278.9L145.20 252.9L145.40 287.5L145.60 196.5L145.80 258.5L146.00 279.8L146.20 239.7L146.40 191.7L146.60 292.6L146.80 149.1L147.00 204.2L147.20 285.8L147.40 263.6L147.60 199.9L147.80 198.4L148.00 160.0L148.20 289.0L148.40 205.6L148.60 254.6L148.80 176.5L149.00 161.7L149.20 207.2L149.40 263.6L149.60 327.8L149.80 273.9L150.00 209.5L150.20 260.6L150.40 228.7L150.60 130.0L150.80 151.5L151.00 293.1L151.20 251.6L151.40 266.0L151.60 193.1L151.80 295.0L152.00 149.5L152.20 267.6L152.40 208.4L152.60 296.0L152.80 260.6L153.00 271.9L153.20 229.1L153.40 226.0L153.60 249.1L153.80 302.5L154.00 244.0L154.20 242.8L154.40 205.0L154.60 300.0L154.80 224.6L155.00 262.7L155.20 221.2L155.40 260.5L155.60 288.2L155.80 283.5L156.00 248.4L156.20 305.4L156.40 297.9L156.60 298.4L156.80 353.0L157.00 218.0L157.20 251.4L157.40 227.8L157.60 250.3L157.80 288.4L158.00 309.2L158.20 326.0L158.40 222.2L158.60 229.8L158.80 289.0L159.00 324.3L159.20 225.1L159.40 73.4L159.60 332.8L159.80 302.9L160.00 198.8L160.20 287.7L160.40 147.8L160.60 242.0L160.80 211.3L161.00 266.6L161.20 259.5L161.40 246.7L161.60 238.9L161.80 360.5L162.00 193.0L162.20 268.4L162.40 190.7L162.60 326.2L162.80 242.6L163.00 286.6L163.20 295.2L163.40 322.9L163.60 309.4L163.80 257.9L164.00 275.1L164.20 294.4L164.40 205.0L164.60 320.0L164.80 250.8L165.00 317.7L165.20 256.7L165.40 328.9L165.60 264.2L165.80 295.0L166.00 415.2L166.20 325.1L166.40 264.8L166.60 117.8L166.80 254.3L167.00 296.0L167.20 283.4L167.40 340.0L167.60 295.9L167.80 325.0L168.00 205.0L168.20 297.1L168.40 281.4L168.60 263.6L168.80 306.0L169.00 297.4L169.20 309.6L169.40 380.6L169.60 264.1L169.80 328.2L170.00 243.3L170.20 278.4L170.40 240.8L170.60 175.0L170.80 216.0L171.00 260.4L171.20 289.3L171.40 267.1L171.60 279.8L171.80 310.0L172.00 287.3L172.20 296.6L172.40 264.9L172.60 299.2L172.80 272.3L173.00 225.5L173.20 272.4L173.40 277.5L173.60 230.2L173.80 284.2L174.00 245.0L174.20 280.1L174.40 312.7L174.60 251.2L174.80 272.3L175.00 284.7L175.20 274.9L175.40 293.6L175.60 245.6L175.80 289.6L176.00 291.6L176.20 277.9L176.40 276.5L176.60 281.9L176.80 283.1L177.00 295.0L177.20 282.6L177.40 285.9L177.60 285.7L177.80 287.6L178.00 260.0L178.20 291.2L178.40 275.3L178.60 278.5L178.80 265.2L179.00 273.0L179.20 264.9L179.40 266.0L179.60 300.0L179.80 283.1L180.00 290.7L180.20 291.4L180.40 256.3L180.60 250.7L180.80 285.6L181.00 272.2L181.20 277.3L181.40 308.4L181.60 291.6L181.80 315.0L182.00 266.0L182.20 293.4L182.40 273.4L182.60 292.1L182.80 274.3L183.00 275.7L183.20 269.0L183.40 283.2L183.60 283.9L183.80 310.2L184.00 276.0L184.20 249.6L184.40 240.6L184.60 320.0L184.80 257.4L185.00 284.3L185.20 263.4L185.40 306.1L185.60 282.8L185.80 311.3L186.00 267.0L186.20 289.6L186.40 285.0L186.60 308.0L186.80 289.0L187.00 310.0L187.20 276.2L187.40 310.1L187.60 288.6L187.80 309.9L188.00 255.7L188.20 313.9L188.40 286.5L188.60 292.6L188.80 274.2L189.00 287.8L189.20 293.0L189.40 266.0L189.60 315.0L189.80 289.9L190.00 279.0L190.20 312.0L190.40 284.7L190.60 250.7L190.80 282.8L191.00 298.6L191.20 276.4L191.40 271.7L191.60 284.5L191.80 290.0L192.00 265.0L192.20 305.0L192.40 281.0L192.60 303.8L192.80 268.3L193.00 253.0L193.20 275.4L193.40 301.9L193.60 277.6L193.80 293.9L194.00 273.0L194.20 309.4L194.40 325.0L194.60 285.5L194.80 314.9L195.00 264.0L195.20 274.8L195.40 280.6L195.60 253.5L195.80 299.8L196.00 275.3L196.20 305.3L196.40 268.6L196.60 265.3L196.80 240.0L197.00 345.0L197.20 233.0L197.40 297.5L197.60 290.5L197.80 295.1L198.00 287.7L198.20 260.0L198.40 284.7L198.60 262.4L198.80 277.9L199.00 260.6L199.20 254.5L199.40 243.0L199.60 320.0L199.80 268.9L200.00 285.0L200.20 281.5L200.40 259.0L200.60 293.1L200.80 258.0L201.00 289.0L201.20 280.6L201.40 321.1L201.60 321.1L201.80 291.3L202.00 248.0L202.20 325.0L202.40 314.6L202.60 289.4L202.80 277.1L203.00 258.9L203.20 255.0L203.40 268.0L203.60 296.4L203.80 269.0L204.00 278.4L204.20 270.4L204.40 215.5L204.60 307.7L204.80 276.2L205.00 269.7L205.20 286.8L205.40 309.9L205.60 287.3L205.80 305.7L206.00 260.2L206.20 303.5L206.40 317.5L206.60 304.4L206.80 274.3L207.00 332.8L207.20 255.0L207.40 271.6L207.60 251.3L207.80 180.0L208.00 264.1L208.20 244.2L208.40 236.6L208.60 303.0L208.80 260.0L209.00 273.7L209.20 216.0L209.40 235.5L209.60 345.0L209.80 260.0L210.00 274.8L210.20 213.0L210.40 237.9L210.60 242.3L210.80 239.4L211.00 261.9L211.20 263.9L211.40 239.5L211.60 235.3L211.80 270.3L212.00 388.0L212.20 338.4L212.40 281.7L212.60 286.5L212.80 193.0L213.00 298.1L213.20 313.9L213.40 242.8L213.60 269.2L213.80 247.2L214.00 205.0L214.20 248.2L214.40 284.9L214.60 335.0L214.80 291.6L215.00 325.7L215.20 284.6L215.40 218.0L215.60 275.3L215.80 259.5L216.00 247.0L216.20 301.6L216.40 293.5L216.60 292.6L216.80 272.7L217.00 179.0L217.20 370.5L217.40 282.8L217.60 258.8L217.80 274.5L218.00 243.4L218.20 294.8L218.40 289.0L218.60 309.4L218.80 244.9L219.00 299.3L219.20 297.0L219.40 350.0L219.60 205.4L219.80 353.0L220.00 264.1L220.20 350.4L220.40 243.6L220.60 260.2L220.80 269.4L221.00 291.6L221.20 311.2L221.40 337.2L221.60 269.6L221.80 337.3L222.00 200.0L222.20 332.8L222.40 230.0L222.60 253.8L222.80 278.5L223.00 214.3L223.20 268.5L223.40 329.5L223.60 223.6L223.80 318.8L224.00 261.9L224.20 318.6L224.40 246.6L224.60 213.0L224.80 343.0L225.00 306.1L225.20 242.8L225.40 457.9L225.60 224.4L225.80 206.2L226.00 245.0L226.20 207.0L226.40 224.2L226.60 192.7L226.80 188.8L227.00 193.0L227.20 355.5L227.40 290.1L227.60 191.8L227.80 343.6L228.00 187.7L228.20 335.4L228.40 286.3L228.60 279.5L228.80 290.8L229.00 311.1L229.20 268.4L229.40 285.6L229.60 343.0L229.80 275.0L230.00 286.3L230.20 235.7L230.40 262.8L230.60 334.8L230.80 271.5L231.00 162.7L231.20 311.6L231.40 291.8L231.60 266.2L231.80 351.0L232.00 370.5L232.20 298.3L232.40 325.8L232.60 350.8L232.80 266.2L233.00 323.9L233.20 202.7L233.40 177.8L233.60 212.2L233.80 246.4L234.00 273.3L234.20 219.1L234.40 251.9L234.60 345.0L234.80 295.9L235.00 302.4L235.20 274.1L235.40 327.8L235.60 278.9L235.80 361.8L236.00 180.0L236.20 291.6L236.40 283.7L236.60 375.6L236.80 276.8L237.00 373.0L237.20 178.3L237.40 169.0L237.60 338.0L237.80 294.6L238.00 217.5L238.20 308.0L238.40 255.9L238.60 216.4L238.80 199.6L239.00 273.4L239.20 244.5L239.40 275.3L239.60 205.4L239.80 270.8L240.00 187.8L240.20 318.0L240.40 190.5L240.60 243.6L240.80 233.8L241.00 263.7L241.20 241.6L241.40 245.4L241.60 197.4L241.80 331.4L242.00 241.3L242.20 279.3L242.40 205.0L242.60 343.0L242.80 221.8L243.00 263.7L243.20 264.7L243.40 329.2L243.60 272.2L243.80 288.3L244.00 228.1L244.20 272.5L244.40 269.8L244.60 164.0L244.80 236.9L245.00 242.9L245.20 259.4L245.40 314.4L245.60 290.6L245.80 294.8L246.00 334.3L246.20 213.0L246.40 402.0L246.60 337.3L246.80 276.8L247.00 294.2L247.20 332.9L247.40 279.1L247.60 245.6L247.80 261.5L248.00 259.5L248.20 354.9L248.40 287.5L248.60 316.1L248.80 395.8L249.00 270.0L249.20 295.6L249.40 327.4L249.60 371.4L249.80 326.1L250.00 318.5L250.20 335.5L250.40 232.0L250.60 289.8L250.80 273.0L251.00 359.6L251.20 339.7L251.40 385.7L251.60 277.2L251.80 366.3L252.00 276.0L252.20 375.7L252.40 288.4L252.60 294.0L252.80 298.2L253.00 277.4L253.20 281.3L253.40 298.5L253.60 327.3L253.80 298.0L254.00 280.0L254.20 355.5L254.40 360.3L254.60 313.4L254.80 322.1L255.00 339.4L255.20 307.6L255.40 298.5L255.60 288.3L255.80 286.3L256.00 312.5L256.20 369.9L256.40 373.0L256.60 357.4L256.80 291.9L257.00 285.2L257.20 356.3L257.40 274.0L257.60 296.0L257.80 290.1L258.00 284.5L258.20 305.2L258.40 306.4L258.60 330.9L258.80 175.0L259.00 380.7L259.20 291.5L259.40 368.4L259.60 283.4L259.80 346.5L260.00 273.0L260.20 337.8L260.40 272.0L260.60 296.6L260.80 314.8L261.00 286.6L261.20 313.7L261.40 360.6L261.60 282.1L261.80 297.9L262.00 284.4L262.20 357.1L262.40 309.2L262.60 373.1L262.80 293.7L263.00 331.8L263.20 308.7L263.40 360.4L263.60 291.2L263.80 375.7L264.00 283.0L264.20 335.5L264.40 281.8L264.60 340.3L264.80 328.4L265.00 345.7L265.20 296.5L265.40 280.2L265.60 297.1L265.80 336.1L266.00 281.3L266.20 360.9L266.40 355.5L266.60 297.2L266.80 292.8L267.00 312.3L267.20 304.1L267.40 315.6L267.60 347.5L267.80 357.0L268.00 276.0L268.20 309.4L268.40 279.2L268.60 276.3L268.80 400.0L269.00 315.5L269.20 278.1L269.40 287.7L269.60 297.9L269.80 313.7L270.00 291.5L270.20 303.3L270.40 292.0L270.60 279.9L270.80 299.9L271.00 349.0L271.20 284.7L271.40 368.0L271.60 298.6L271.80 360.4L272.00 280.0L272.20 292.9L272.40 307.1L272.60 312.2L272.80 281.2L273.00 305.8L273.20 312.7L273.40 351.5L273.60 299.6L273.80 303.3L274.00 355.5L274.20 286.6L274.40 301.6L274.60 505.7L274.80 298.8L275.00 270.0L275.20 309.1L275.40 349.8L275.60 335.9L275.80 320.4L276.00 301.1L276.20 349.3L276.40 208.0L276.60 350.5L276.80 285.5L277.00 308.8L277.20 470.5L277.40 293.6L277.60 250.7L277.80 284.8L278.00 240.0L278.20 314.8L278.40 299.8L278.60 279.4L278.80 262.6L279.00 380.7L279.20 286.4L279.40 232.0L279.60 262.4L279.80 313.6L280.00 356.0L280.20 330.6L280.40 285.7L280.60 314.0L280.80 252.2L281.00 196.6L281.20 327.5L281.40 373.0L281.60 269.3L281.80 373.1L282.00 313.7L282.20 276.2L282.40 302.7L282.60 334.4L282.80 225.5L283.00 338.5L283.20 318.5L283.40 336.6L283.60 318.1L283.80 321.6L284.00 262.0L284.20 365.6L284.40 263.5L284.60 261.3L284.80 276.1L285.00 284.2L285.20 289.8L285.40 315.6L285.60 286.7L285.80 344.0L286.00 330.9L286.20 308.3L286.40 373.0L286.60 316.1L286.80 283.7L287.00 268.0L287.20 313.9L287.40 358.2L287.60 304.6L287.80 431.5L288.00 297.8L288.20 372.4L288.40 292.6L288.60 348.4L288.80 283.7L289.00 365.6L289.20 291.2L289.40 370.4L289.60 337.8L289.80 354.8L290.00 270.0L290.20 286.7L290.40 293.6L290.60 286.8L290.80 356.7L291.00 369.0L291.20 316.0L291.40 364.0L291.60 370.6L291.80 302.1L292.00 321.0L292.20 340.9L292.40 344.7L292.60 278.3L292.80 303.9L293.00 313.3L293.20 299.4L293.40 350.0L293.60 328.2L293.80 284.2L294.00 266.0L294.20 355.5L294.40 295.5L294.60 288.8L294.80 275.9L295.00 298.9L295.20 277.2L295.40 290.1L295.60 308.3L295.80 303.3L296.00 311.0L296.20 283.2L296.40 332.0L296.60 338.0L296.80 302.3L297.00 304.7L297.20 271.1L297.40 270.0L297.60 308.6L297.80 327.3L298.00 291.6L298.20 243.0L298.40 321.3L298.60 349.4L298.80 303.2L299.00 348.0L299.20 294.2L299.40 270.0L299.60 288.1L299.80 343.9L300.00 280.5L300.20 306.3L300.40 272.2L300.60 279.6L300.80 299.7L301.00 305.0L301.20 273.9L301.40 308.1L301.60 338.0L301.80 290.9L302.00 272.0L302.20 293.3L302.40 279.3L302.60 289.0L302.80 300.1L303.00 326.8L303.20 317.6L303.40 327.4L303.60 281.9L303.80 305.4L304.00 350.5L304.20 344.5L304.40 290.9L304.60 302.5L304.80 284.4L305.00 292.7L305.20 272.0L305.40 306.5L305.60 300.0L305.80 299.1L306.00 270.7L306.20 308.6L306.40 273.8L306.60 330.4L306.80 332.5L307.00 308.0L307.20 301.9L307.40 316.5L307.60 279.2L307.80 335.9L308.00 268.0L308.20 342.0L308.40 297.5L308.60 357.9L308.80 288.4L309.00 283.2L309.20 363.0L309.40 296.4L309.60 280.6L309.80 340.7L310.00 303.5L310.20 326.9L310.40 286.3L310.60 330.6L310.80 304.5L311.00 288.5L311.20 292.5L311.40 341.8L311.60 335.4L311.80 312.9L312.00 304.9L312.20 308.9L312.40 335.5L312.60 276.6L312.80 303.3L313.00 335.3L313.20 285.1L313.40 329.1L313.60 277.6L313.80 301.5L314.00 270.0L314.20 340.5L314.40 309.1L314.60 323.4L314.80 297.0L315.00 329.5L315.20 303.1L315.40 234.0L315.60 301.8L315.80 334.1L316.00 271.5L316.20 315.9L316.40 298.1L316.60 355.5L316.80 294.7L317.00 268.0L317.20 286.9L317.40 321.4L317.60 268.4L317.80 276.6L318.00 293.1L318.20 297.0L318.40 279.5L318.60 330.9L318.80 300.1L319.00 323.6L319.20 328.0L319.40 286.5L319.60 277.4L319.80 314.5L320.00 269.5L320.20 312.8L320.40 286.5L320.60 305.4L320.80 285.2L321.00 303.5L321.20 289.3L321.40 285.7L321.60 315.3L321.80 286.4L322.00 270.0L322.20 293.8L322.40 284.2L322.60 293.4L322.80 302.5L323.00 289.9L323.20 277.0L323.40 307.3L323.60 295.8L323.80 286.1L324.00 294.4L324.20 305.3L324.40 270.7L324.60 289.4L324.80 275.5L325.00 275.8L325.20 277.0L325.40 296.4L325.60 279.0L325.80 290.3L326.00 277.1L326.20 284.5L326.40 273.1L326.60 295.1L326.80 300.0L327.00 268.0L327.20 271.2L327.40 297.8L327.60 271.8L327.80 286.0L328.00 292.3L328.20 279.7L328.40 243.0L328.60 287.2L328.80 261.2L329.00 286.0L329.20 259.5L329.40 297.7L329.60 276.2L329.80 297.4L330.00 266.0L330.20 289.8L330.40 282.2L330.60 287.1L330.80 283.5L331.00 301.2L331.20 292.3L331.40 300.0L331.60 287.8L331.80 302.8L332.00 277.9L332.20 287.8L332.40 275.5L332.60 289.2L332.80 264.2L333.00 262.0L333.20 297.2L333.40 289.6L333.60 273.5L333.80 279.9L334.00 277.4L334.20 307.8L334.40 283.1L334.60 290.3L334.80 280.9L335.00 292.2L335.20 294.0L335.40 252.0L335.60 297.8L335.80 276.8L336.00 279.2L336.20 284.5L336.40 290.5L336.60 278.3L336.80 130.0L337.00 295.0L337.20 266.1L337.40 279.7L337.60 274.1L337.80 279.2L338.00 250.0L338.20 292.6L338.40 260.7L338.60 279.9L338.80 250.1L339.00 274.2L339.20 288.8L339.40 142.0L339.60 302.8L339.80 283.7L340.00 287.8L340.20 279.2L340.40 269.0L340.60 254.0L340.80 248.2L341.00 250.0L341.20 252.4L341.40 260.0L341.60 267.1L341.80 297.7L342.00 281.6L342.20 287.2L342.40 272.2L342.60 267.4L342.80 277.6L343.00 281.3L343.20 275.5L343.40 292.3L343.60 266.4L343.80 293.6L344.00 274.0L344.20 269.0L344.40 305.3L344.60 292.9L344.80 281.2L345.00 253.0L345.20 267.4L345.40 282.4L345.60 276.2L345.80 279.9L346.00 267.9L346.20 253.7L346.40 252.9L346.60 291.5L346.80 297.7L347.00 290.4L347.20 275.4L347.40 297.0L347.60 261.7L347.80 264.8L348.00 262.2L348.20 247.9L348.40 267.0L348.60 289.7L348.80 262.5L349.00 269.4L349.20 277.1L349.40 240.6L349.60 312.8L349.80 284.7L350.00 286.4L350.20 293.6L350.40 286.0L350.60 289.5L350.80 250.7L351.00 250.0L351.20 273.5L351.40 265.3L351.60 284.0L351.80 305.3L352.00 284.6L352.20 267.5L352.40 305.8L352.60 301.2L352.80 253.7L353.00 238.0L353.20 239.0L353.40 280.1L353.60 269.9L353.80 271.6L354.00 262.9L354.20 241.7L354.40 300.0L354.60 274.8L354.80 252.3L355.00 274.3L355.20 293.3L355.40 251.2L355.60 281.5L355.80 270.0L356.00 252.0L356.20 260.1L356.40 260.0L356.60 258.2L356.80 292.7L357.00 251.4L357.20 256.5L357.40 273.4L357.60 268.4L357.80 262.1L358.00 272.9L358.20 271.1L358.40 274.0L358.60 289.1L358.80 269.2L359.00 289.1L359.20 272.1L359.40 322.9L359.60 263.8L359.80 269.3L360.00 256.2L360.20 287.7L360.40 250.0L360.60 276.6L360.80 262.1L361.00 291.5L361.20 249.9L361.40 287.1L361.60 254.1L361.80 268.1L362.00 111.8L362.20 290.0L362.40 264.8L362.60 275.9L362.80 111.8L363.00 288.4L363.20 255.3L363.40 76.1L363.60 259.3L363.80 274.6L364.00 264.0L364.20 275.9L364.40 250.0L364.60 285.0L364.80 254.2L365.00 265.5L365.20 265.7L365.40 272.6L365.60 271.6L365.80 269.0L366.00 255.3L366.20 262.7L366.40 254.0L366.60 268.8L366.80 267.2L367.00 282.7L367.20 284.1L367.40 280.4L367.60 267.3L367.80 276.8L368.00 255.0L368.20 285.1L368.40 266.8L368.60 285.5L368.80 267.7L369.00 280.1L369.20 257.4L369.40 287.7L369.60 271.3L369.80 270.0L370.00 281.0L370.20 280.4L370.40 263.8L370.60 283.4L370.80 269.5L371.00 274.5L371.20 257.1L371.40 275.5L371.60 283.0L371.80 264.5L372.00 260.3L372.20 276.2L372.40 274.8L372.60 266.3L372.80 291.0L373.00 254.0L373.20 257.4L373.40 269.5L373.60 266.3L373.80 270.1L374.00 267.2L374.20 267.6L374.40 263.8L374.60 277.9L374.80 263.4L375.00 272.8L375.20 256.8L375.40 277.7L375.60 288.0L375.80 279.3L376.00 277.4L376.20 274.4L376.40 268.8L376.60 276.8L376.80 269.5L377.00 281.1L377.20 259.8L377.40 280.2L377.60 268.7L377.80 259.4L378.00 255.0L378.20 271.4L378.40 277.0L378.60 272.6L378.80 274.1L379.00 260.6L379.20 252.5L379.40 182.8L379.60 275.3L379.80 250.8L380.00 259.4L380.20 249.3L380.40 269.0L380.60 257.7L380.80 15.5L381.00 265.7L381.20 278.0L381.40 278.9L381.60 241.5L381.80 276.9L382.00 240.0L382.20 245.3L382.40 249.3L382.60 245.1L382.80 276.1L383.00 268.1L383.20 242.7L383.40 215.5L383.60 219.1L383.80 259.5L384.00 296.5L384.20 281.8L384.40 263.9L384.60 287.9L384.80 248.2L385.00 250.0L385.20 255.8L385.40 260.7L385.60 249.5L385.80 286.4L386.00 259.2L386.20 271.0L386.40 268.4L386.60 53.3L386.80 313.4L387.00 272.7L387.20 276.1L387.40 240.0L387.60 268.2L387.80 275.0L388.00 262.7L388.20 230.6L388.40 253.4L388.60 258.1L388.80 271.7L389.00 258.9L389.20 288.0L389.40 283.0L389.60 295.0L389.80 289.7L390.00 251.9L390.20 294.0L390.40 285.4L390.60 285.4L390.80 263.8L391.00 283.7L391.20 264.6L391.40 267.6L391.60 267.3L391.80 271.8L392.00 255.0L392.20 260.0L392.40 288.0L392.60 281.3L392.80 267.7L393.00 252.6L393.20 289.0L393.40 268.9L393.60 267.8L393.80 270.5L394.00 276.0L394.20 259.0L394.40 275.2L394.60 267.5L394.80 237.4L395.00 275.0L395.20 234.4L395.40 306.3L395.60 238.7L395.80 210.4L396.00 235.8L396.20 264.5L396.40 228.0L396.60 272.8L396.80 253.0L397.00 262.6L397.20 247.0L397.40 245.0L397.60 253.9L397.80 271.3L398.00 274.0L398.20 249.2L398.40 265.0L398.60 261.9L398.80 258.0L399.00 261.6L399.20 262.2L399.40 278.3L399.60 233.0L399.80 249.2L400.00 255.4L400.20 258.9L400.40 239.2L400.60 279.8L400.80 261.8L401.00 267.5L401.20 269.2L401.40 264.6L401.60 249.6L401.80 278.1L402.00 247.5L402.20 284.0L402.40 258.8L402.60 255.8L402.80 264.7L403.00 240.0L403.20 247.2L403.40 255.2L403.60 235.4L403.80 269.1L404.00 249.2L404.20 254.3L404.40 221.6L404.60 256.3L404.80 251.9L405.00 288.0L405.20 271.6L405.40 212.9L405.60 255.9L405.80 239.7L406.00 205.4L406.20 237.9L406.40 208.5L406.60 241.7L406.80 266.2L407.00 272.8L407.20 246.3L407.40 248.4L407.60 269.2L407.80 265.9L408.00 296.5L408.20 287.7L408.40 232.6L408.60 268.0L408.80 237.7L409.00 248.9L409.20 260.8L409.40 274.3L409.60 182.8L409.80 310.7L410.00 264.5L410.20 246.2L410.40 264.1L410.60 313.4L410.80 240.5L411.00 246.7L411.20 312.6L411.40 274.4L411.60 281.1L411.80 283.7L412.00 211.3L412.20 289.2L412.40 192.8L412.60 260.6L412.80 234.7L413.00 240.7L413.20 212.5L413.40 305.0L413.60 246.7L413.80 274.3L414.00 214.3L414.20 261.8L414.40 302.3L414.60 268.4L414.80 232.7L415.00 242.0L415.20 219.7L415.40 179.0L415.60 241.8L415.80 282.7L416.00 215.9L416.20 295.0L416.40 289.8L416.60 272.8L416.80 257.2L417.00 271.3L417.20 248.8L417.40 218.0L417.60 251.6L417.80 258.6L418.00 246.4L418.20 250.1L418.40 244.0L418.60 266.9L418.80 244.6L419.00 306.0L419.20 252.7L419.40 292.9L419.60 235.3L419.80 263.9L420.00 230.6L420.20 276.1L420.40 260.4L420.60 254.7L420.80 227.2L421.00 266.0L421.20 242.1L421.40 277.0L421.60 267.3L421.80 263.4L422.00 254.0L422.20 238.5L422.40 249.8L422.60 225.5L422.80 252.3L423.00 259.9L423.20 255.9L423.40 264.7L423.60 295.0L423.80 261.8L424.00 249.6L424.20 288.0L424.40 233.9L424.60 272.9L424.80 302.0L425.00 272.8L425.20 243.0L425.40 307.0L425.60 289.5L425.80 302.1L426.00 276.8L426.20 194.0L426.40 326.0L426.60 324.8L426.80 321.7L427.00 286.0L427.20 274.8L427.40 313.6L427.60 310.8L427.80 282.2L428.00 245.5L428.20 289.2L428.40 271.9L428.60 280.2L428.80 238.0L429.00 302.0L429.20 253.9L429.40 295.8L429.60 254.5L429.80 296.3L430.00 275.8L430.20 258.2L430.40 250.7L430.60 300.2L430.80 306.6L431.00 299.4L431.20 274.6L431.40 277.7L431.60 269.3L431.80 306.3L432.00 255.6L432.20 287.2L432.40 247.7L432.60 235.6L432.80 265.8L433.00 236.6L433.20 265.1L433.40 296.5L433.60 241.4L433.80 299.1L434.00 248.0L434.20 275.6L434.40 260.6L434.60 309.0L434.80 264.0L435.00 307.0L435.20 249.2L435.40 240.0L435.60 244.4L435.80 265.4L436.00 330.2L436.20 293.0L436.40 129.4L436.60 289.8L436.80 288.7L437.00 280.6L437.20 264.4L437.40 230.0L437.60 300.7L437.80 277.2L438.00 245.4L438.20 288.3L438.40 276.2L438.60 298.5L438.80 283.9L439.00 293.7L439.20 243.1L439.40 283.6L439.60 264.3L439.80 289.6L440.00 170.0L440.20 306.3L440.40 274.5L440.60 282.0L440.80 220.3L441.00 268.9L441.20 249.9L441.40 280.7L441.60 321.8L441.80 263.0L442.00 253.6L442.20 283.3L442.40 239.7L442.60 162.7L442.80 236.0L443.00 261.2L443.20 239.2L443.40 273.9L443.60 260.6L443.80 222.5L444.00 231.4L444.20 223.9L444.40 321.8L444.60 20.1L444.80 217.8L445.00 213.1L445.20 240.9L445.40 282.0L445.60 223.3L445.80 312.0L446.00 298.3L446.20 309.3L446.40 192.8L446.60 245.6L446.80 276.2L447.00 288.8L447.20 241.6L447.40 308.1L447.60 290.8L447.80 289.1L448.00 263.1L448.20 260.1L448.40 285.1L448.60 302.0L448.80 299.2L449.00 223.0L449.20 302.8L449.40 274.9L449.60 250.8L449.80 279.5L450.00 258.5L450.20 282.1L450.40 253.1L450.60 297.8L450.80 268.1L451.00 259.5L451.20 248.4L451.40 220.5L451.60 306.3L451.80 284.3L452.00 263.0L452.20 257.9L452.40 256.4L452.60 275.3L452.80 330.2L453.00 301.4L453.20 256.7L453.40 306.3L453.60 237.3L453.80 285.0L454.00 210.4L454.20 309.0L454.40 225.9L454.60 213.8L454.80 251.8L455.00 261.3L455.20 222.9L455.40 291.3L455.60 233.6L455.80 268.2L456.00 248.0L456.20 222.6L456.40 288.0L456.60 251.3L456.80 244.4L457.00 278.0L457.20 210.9L457.40 214.0L457.60 264.9L457.80 209.0L458.00 259.7L458.20 249.7L458.40 236.1L458.60 255.2L458.80 250.6L459.00 258.4L459.20 249.3L459.40 255.0L459.60 255.9L459.80 281.0L460.00 226.7L460.20 230.6L460.40 234.3L460.60 276.5L460.80 248.8L461.00 278.6L461.20 258.5L461.40 272.8L461.60 277.6L461.80 239.6L462.00 261.8L462.20 276.0L462.40 246.6L462.60 338.7L462.80 225.5L463.00 276.7L463.20 253.2L463.40 258.1L463.60 275.3L463.80 249.6L464.00 271.4L464.20 241.4L464.40 260.5L464.60 234.3L464.80 157.7L465.00 252.4L465.20 232.9L465.40 299.3L465.60 249.4L465.80 262.9L466.00 247.4L466.20 294.1L466.40 251.3L466.60 292.8L466.80 273.4L467.00 301.4L467.20 285.1L467.40 180.0L467.60 310.0L467.80 293.4L468.00 257.4L468.20 260.9L468.40 256.3L468.60 280.8L468.80 242.2L469.00 167.7L469.20 465.5L469.40 262.6L469.60 270.4L469.80 330.7L470.00 272.0L470.20 13.4L470.40 300.3L470.60 328.7L470.80 288.5L471.00 297.9L471.20 295.6L471.40 313.1L471.60 400.0L471.80 259.8L472.00 301.4L472.20 205.4L472.40 366.9L472.60 370.1L472.80 315.1L473.00 352.6L473.20 324.3L473.40 334.8L473.60 266.1L473.80 306.8L474.00 395.8L474.20 401.3L474.40 247.6L474.60 300.9L474.80 218.0L475.00 285.6L475.20 351.4L475.40 384.7L475.60 337.4L475.80 375.0L476.00 255.0L476.20 322.9L476.40 310.8L476.60 385.7L476.80 273.8L477.00 303.3L477.20 264.1L477.40 290.8L477.60 283.3L477.80 293.9L478.00 266.0L478.20 295.5L478.40 292.9L478.60 274.3L478.80 266.4L479.00 375.7L479.20 275.5L479.40 281.9L479.60 299.5L479.80 341.8L480.00 266.4L480.20 310.8L480.40 291.8L480.60 303.6L480.80 304.1L481.00 398.9L481.20 268.0L481.40 322.7L481.60 365.6L481.80 315.3L482.00 268.0L482.20 284.2L482.40 355.0L482.60 296.7L482.80 268.5L483.00 350.2L483.20 286.2L483.40 326.6L483.60 271.6L483.80 331.9L484.00 266.0L484.20 370.6L484.40 270.6L484.60 235.0L484.80 299.2L485.00 312.4L485.20 266.0L485.40 281.6L485.60 310.1L485.80 343.6L486.00 341.0L486.20 307.4L486.40 284.1L486.60 355.5L486.80 307.2L487.00 306.2L487.20 289.9L487.40 342.5L487.60 334.4L487.80 319.1L488.00 354.4L488.20 346.1L488.40 282.8L488.60 272.2L488.80 271.3L489.00 268.0L489.20 350.5L489.40 302.0L489.60 280.3L489.80 270.4L490.00 290.9L490.20 275.7L490.40 280.6L490.60 288.9L490.80 268.4L491.00 297.3L491.20 270.7L491.40 321.7L491.60 330.4L491.80 315.0L492.00 310.9L492.20 319.2L492.40 330.0L492.60 312.6L492.80 282.9L493.00 266.0L493.20 299.1L493.40 309.9L493.60 190.3L493.80 286.3L494.00 290.1L494.20 338.0L494.40 266.0L494.60 315.9L494.80 300.3L495.00 277.6L495.20 291.5L495.40 317.8L495.60 280.7L495.80 327.6L496.00 336.9L496.20 306.0L496.40 266.0L496.60 393.0L496.80 330.6L497.00 112.6L497.20 312.2L497.40 125.7L497.60 278.8L497.80 316.3L498.00 289.3L498.20 264.0L498.40 271.0L498.60 326.6L498.80 270.7L499.00 288.0L499.20 330.4L499.40 302.3L499.60 284.1L499.80 313.6L500.00 266.0L500.20 328.0L500.40 307.3L500.60 320.2L500.80 314.2L501.00 311.8L501.20 293.8L501.40 329.7L501.60 276.7L501.80 264.0L502.00 338.0L502.20 307.6L502.40 288.7L502.60 90.0L502.80 308.8L503.00 145.0L503.20 291.7L503.40 322.5L503.60 270.4L503.80 264.0L504.00 283.7L504.20 328.0L504.40 317.2L504.60 266.9L504.80 290.2L505.00 314.6L505.20 288.2L505.40 266.0L505.60 324.7L505.80 312.2L506.00 292.7L506.20 200.0L506.40 301.6L506.60 310.5L506.80 390.7L507.00 265.0L507.20 288.4L507.40 311.8L507.60 293.2L507.80 288.7L508.00 266.1L508.20 302.2L508.40 268.5L508.60 292.6L508.80 307.7L509.00 296.1L509.20 291.7L509.40 322.9L509.60 266.2L509.80 306.0L510.00 266.0L510.20 295.0L510.40 266.5L510.60 299.4L510.80 279.6L511.00 297.3L511.20 285.6L511.40 282.7L511.60 299.0L511.80 317.8L512.00 284.3L512.20 305.3L512.40 295.3L512.60 282.0L512.80 266.0L513.00 274.8L513.20 275.7L513.40 182.8L513.60 365.6L513.80 305.4L514.00 291.6L514.20 266.0L514.40 307.7L514.60 273.4L514.80 282.6L515.00 319.0L515.20 315.5L515.40 313.6L515.60 250.0L515.80 317.8L516.00 276.3L516.20 266.0L516.40 281.5L516.60 320.7L516.80 282.6L517.00 302.4L517.20 276.7L517.40 271.2L517.60 301.3L517.80 318.9L518.00 260.0L518.20 325.4L518.40 286.4L518.60 265.1L518.80 291.2L519.00 294.5L519.20 264.3L519.40 270.2L519.60 271.5L519.80 327.0L520.00 300.7L520.20 285.5L520.40 285.0L520.60 330.4L520.80 289.6L521.00 310.3L521.20 298.4L521.40 324.5L521.60 277.8L521.80 295.2L522.00 264.0L522.20 294.5L522.40 285.3L522.60 304.5L522.80 298.4L523.00 333.0L523.20 290.2L523.40 307.9L523.60 273.3L523.80 322.2L524.00 271.1L524.20 300.2L524.40 327.4L524.60 265.7L524.80 287.7L525.00 320.4L525.20 290.5L525.40 321.0L525.60 320.4L525.80 264.1L526.00 240.0L526.20 315.2L526.40 298.4L526.60 317.2L526.80 264.0L527.00 267.7L527.20 282.5L527.40 288.3L527.60 271.2L527.80 288.2L528.00 325.4L528.20 303.5L528.40 262.0L528.60 327.3L528.80 283.3L529.00 60.0L529.20 276.8L529.40 265.5L529.60 284.2L529.80 60.0L530.00 277.4L530.20 292.9L530.40 287.2L530.60 258.0L530.80 343.0L531.00 311.4L531.20 260.2L531.40 322.2L531.60 281.9L531.80 292.5L532.00 255.7L532.20 324.9L532.40 253.6L532.60 256.5L532.80 268.9L533.00 270.9L533.20 330.4L533.40 305.3L533.60 263.7L533.80 287.5L534.00 280.5L534.20 304.8L534.40 270.4L534.60 242.4L534.80 247.7L535.00 307.4L535.20 250.8L535.40 299.0L535.60 289.4L535.80 230.6L536.00 320.4L536.20 273.2L536.40 232.8L536.60 262.5L536.80 285.3L537.00 282.7L537.20 315.0L537.40 281.8L537.60 318.3L537.80 308.7L538.00 275.6L538.20 228.0L538.40 317.8L538.60 254.9L538.80 278.0L539.00 256.7L539.20 279.5L539.40 325.0L539.60 247.5L539.80 239.8L540.00 248.8L540.20 275.9L540.40 247.8L540.60 240.6L540.80 328.0L541.00 270.5L541.20 272.9L541.40 320.2L541.60 239.5L541.80 251.3L542.00 245.1L542.20 277.3L542.40 276.8L542.60 303.2L542.80 227.0L543.00 263.8L543.20 205.4L543.40 335.4L543.60 222.0L543.80 290.9L544.00 253.1L544.20 263.9L544.40 247.5L544.60 265.7L544.80 410.5L545.00 250.2L545.20 227.9L545.40 271.7L545.60 272.7L545.80 215.5L546.00 253.3L546.20 239.8L546.40 219.8L546.60 287.6L546.80 265.8L547.00 330.4L547.20 234.5L547.40 322.2L547.60 234.0L547.80 299.2L548.00 277.5L548.20 230.6L548.40 318.6L548.60 322.6L548.80 263.4L549.00 287.2L549.20 276.1L549.40 328.0L549.60 242.7L549.80 296.5L550.00 323.2L550.20 320.3L550.40 259.1L550.60 327.8L550.80 250.7L551.00 301.2L551.20 287.2L551.40 297.4L551.60 277.8L551.80 285.5L552.00 320.4L552.20 283.9L552.40 269.1L552.60 300.9L552.80 244.6L553.00 289.2L553.20 238.0L553.40 261.0L553.60 240.5L553.80 312.4L554.00 283.7L554.20 317.2L554.40 303.2L554.60 322.9L554.80 292.4L555.00 276.9L555.20 268.7L555.40 316.6L555.60 272.6L555.80 230.6L556.00 264.4L556.20 302.9L556.40 261.0L556.60 251.8L556.80 266.7L557.00 317.8L557.20 318.4L557.40 251.0L557.60 291.6L557.80 299.3L558.00 263.8L558.20 192.8L558.40 266.4L558.60 288.3L558.80 249.6L559.00 300.4L559.20 272.8L559.40 308.0L559.60 315.3L559.80 269.3L560.00 271.8L560.20 305.5L560.40 264.5L560.60 303.5L560.80 225.5L561.00 306.2L561.20 274.0L561.40 232.9L561.60 304.9L561.80 308.7L562.00 320.4L562.20 273.4L562.40 236.0L562.60 233.7L562.80 253.3L563.00 312.6L563.20 235.6L563.40 306.7L563.60 280.3L563.80 280.3L564.00 257.2L564.20 272.6L564.40 279.4L564.60 305.3L564.80 271.9L565.00 284.2L565.20 269.8L565.40 289.8L565.60 259.4L565.80 245.6L566.00 290.3L566.20 289.5L566.40 267.8L566.60 271.2L566.80 291.6L567.00 297.7L567.20 257.8L567.40 242.9L567.60 267.6L567.80 261.5L568.00 263.1L568.20 264.1L568.40 236.2L568.60 264.6L568.80 233.4L569.00 256.5L569.20 242.0L569.40 260.7L569.60 230.6L569.80 290.0L570.00 237.9L570.20 236.3L570.40 247.8L570.60 286.9L570.80 242.8L571.00 236.5L571.20 257.2L571.40 261.9L571.60 284.4L571.80 243.6L572.00 350.0L572.20 195.4L572.40 266.1L572.60 244.3L572.80 243.6L573.00 252.3L573.20 363.8L573.40 150.0L573.60 254.9L573.80 286.7L574.00 284.7L574.20 294.0L574.40 261.4L574.60 294.6L574.80 271.1L575.00 345.7L575.20 261.8L575.40 264.4L575.60 262.8L575.80 230.6L576.00 265.2L576.20 241.7L576.40 256.3L576.60 300.8L576.80 263.0L577.00 275.0L577.20 279.6L577.40 300.4L577.60 268.5L577.80 289.6L578.00 276.8L578.20 299.0L578.40 238.0L578.60 279.9L578.80 240.9L579.00 242.7L579.20 290.8L579.40 284.6L579.60 257.0L579.80 266.9L580.00 318.0L580.20 302.9L580.40 303.2L580.60 319.1L580.80 262.8L581.00 283.5L581.20 269.7L581.40 292.3L581.60 270.1L581.80 234.3L582.00 254.2L582.20 218.0L582.40 232.4L582.60 308.0L582.80 239.4L583.00 301.2L583.20 242.2L583.40 177.8L583.60 224.6L583.80 245.3L584.00 258.9L584.20 292.5L584.40 225.0L584.60 262.5L584.80 279.5L585.00 295.4L585.20 282.7L585.40 263.5L585.60 259.1L585.80 245.6L586.00 230.6L586.20 262.9L586.40 224.6L586.60 292.1L586.80 224.0L587.00 279.9L587.20 209.0L587.40 305.4L587.60 241.1L587.80 306.5L588.00 238.3L588.20 191.8L588.40 253.3L588.60 253.5L588.80 206.1L589.00 240.2L589.20 273.8L589.40 293.2L589.60 235.1L589.80 285.4L590.00 392.7L590.20 215.0L590.40 268.3L590.60 283.7L590.80 247.8L591.00 313.0L591.20 275.5L591.40 213.0L591.60 277.9L591.80 291.3L592.00 232.1L592.20 251.3L592.40 243.9L592.60 295.4L592.80 264.0L593.00 257.6L593.20 306.3L593.40 274.8L593.60 227.5L593.80 288.9L594.00 210.0L594.20 277.7L594.40 288.1L594.60 291.0L594.80 231.5L595.00 325.6L595.20 242.9L595.40 238.4L595.60 247.6L595.80 257.5L596.00 194.7L596.20 249.1L596.40 212.8L596.60 286.0L596.80 216.5L597.00 244.0L597.20 278.5L597.40 321.8L597.60 411.6L597.80 185.5L598.00 266.5L598.20 265.5L598.40 207.8L598.60 248.8L598.80 255.9L599.00 300.4L599.20 327.0L599.40 302.2L599.60 175.2L599.80 277.0L600.00 168.0L600.20 338.0L600.40 340.9L600.60 325.6L600.80 236.3L601.00 174.6L601.20 174.9L601.40 314.5L601.60 255.7L601.80 263.1L602.00 183.9L602.20 226.7L602.40 215.8L602.60 425.4L602.80 160.0L603.00 272.1L603.20 298.6L603.40 245.3L603.60 192.2L603.80 137.7L604.00 188.5L604.20 194.7L604.40 218.4L604.60 221.5L604.80 249.5L605.00 433.0L605.20 239.0L605.40 204.9L605.60 117.6L605.80 317.5L606.00 176.1L606.20 352.0L606.40 218.9L606.60 313.7L606.80 240.5L607.00 260.3L607.20 188.1L607.40 275.8L607.60 405.0L607.80 150.3L608.00 212.9L608.20 337.7L608.40 323.4L608.60 298.5L608.80 276.7L609.00 127.7L609.20 201.3L609.40 298.0L609.60 336.0L609.80 310.9L610.00 157.7L610.20 107.5L610.40 350.7L610.60 202.4L610.80 327.6L611.00 333.1L611.20 244.8L611.40 130.0L611.60 387.0L611.80 250.4L612.00 204.7L612.20 313.1L612.40 219.6L612.60 286.4L612.80 162.8L613.00 325.6L613.20 252.2L613.40 322.5L613.60 251.6L613.80 239.8L614.00 183.0L614.20 269.5L614.40 241.8L614.60 274.8L614.80 211.0L615.00 329.6L615.20 370.0L615.40 320.2L615.60 264.0L615.80 330.0L616.00 273.2L616.20 313.4L616.40 205.6L616.60 262.1L616.80 261.6L617.00 309.2L617.20 263.2L617.40 315.7L617.60 240.1L617.80 350.7L618.00 221.4L618.20 312.5L618.40 243.6L618.60 264.1L618.80 260.0L619.00 220.7L619.20 284.7L619.40 268.7L619.60 222.9L619.80 231.5L620.00 271.6L620.20 313.0L620.40 227.4L620.60 243.5L620.80 239.9L621.00 280.4L621.20 260.0L621.40 205.6L621.60 261.4L621.80 322.7L622.00 230.2L622.20 325.9L622.40 260.2L622.60 294.0L622.80 338.0L623.00 278.5L623.20 207.0L623.40 159.0L623.60 250.7L623.80 248.3L624.00 192.6L624.20 271.8L624.40 199.5L624.60 224.4L624.80 231.2L625.00 207.3L625.20 170.4L625.40 325.6L625.60 259.2L625.80 275.8L626.00 184.4L626.20 273.1L626.40 236.8L626.60 185.5L626.80 270.4L627.00 324.1L627.20 312.6L627.40 320.3L627.60 265.8L627.80 365.8L628.00 276.7L628.20 287.9L628.40 295.9L628.60 281.9L628.80 297.8L629.00 195.5L629.20 241.8L629.40 296.3L629.60 315.7L629.80 259.8L630.00 206.7L630.20 313.0L630.40 223.1L630.60 305.1L630.80 250.4L631.00 277.6L631.20 247.4L631.40 157.8L631.60 254.0L631.80 280.2L632.00 283.0L632.20 294.6L632.40 219.7L632.60 312.4L632.80 308.0L633.00 267.1L633.20 286.2L633.40 306.8L633.60 275.2L633.80 297.5L634.00 397.8L634.20 213.0L634.40 238.6L634.60 218.8L634.80 226.5L635.00 211.2L635.20 290.4L635.40 300.4L635.60 272.9L635.80 214.7L636.00 256.5L636.20 282.7L636.40 252.1L636.60 208.0L636.80 234.4L637.00 250.8L637.20 237.6L637.40 246.3L637.60 266.0L637.80 330.6L638.00 309.7L638.20 270.9L638.40 276.9L638.60 299.2L638.80 270.8L639.00 200.5L639.20 200.3L639.40 270.2L639.60 238.2L639.80 276.6L640.00 263.5L640.20 320.5L640.40 247.7L640.60 290.7L640.80 173.0L641.00 264.4L641.20 252.8L641.40 252.9L641.60 214.4L641.80 250.0L642.00 254.7L642.20 252.5L642.40 227.5L642.60 229.4L642.80 213.0L643.00 300.4L643.20 247.0L643.40 281.0L643.60 299.9L643.80 283.4L644.00 250.8L644.20 272.9L644.40 280.4L644.60 262.1L644.80 234.8L645.00 290.4L645.20 228.7L645.40 165.4L645.60 295.4L645.80 250.0L646.00 196.4L646.20 283.0L646.40 245.3L646.60 140.2L646.80 224.7L647.00 263.9L647.20 290.7L647.40 282.0L647.60 233.1L647.80 168.0L648.00 298.0L648.20 252.8L648.40 287.5L648.60 241.7L648.80 249.1L649.00 183.0L649.20 198.3L649.40 302.8L649.60 249.4L649.80 304.3L650.00 240.9L650.20 301.8L650.40 220.7L650.60 303.0L650.80 236.7" stroke="#EDB120"/>
<path d="M66.30 266.9L66.80 265.4L67.30 266.9L67.80 266.6L68.30 267.5L68.80 267.3L69.30 267.9L69.80 266.1L70.30 266.8L70.80 270.4L71.30 268.5L71.80 266.6L72.30 266.0L72.80 266.0L73.30 263.5L73.80 264.7L74.30 266.0L74.80 268.2L75.30 270.0L75.80 269.5L76.30 266.8L76.80 268.6L77.30 265.4L77.80 261.1L78.30 261.4L78.80 261.0L79.30 261.1L79.80 260.6L80.30 261.4L80.80 259.8L81.30 259.8L81.80 259.6L82.30 261.6L82.80 261.1L83.30 261.6L83.80 264.0L84.30 259.8L84.80 259.7L85.30 259.3L85.80 259.7L86.30 261.7L86.80 261.0L87.30 257.6L87.80 260.3L88.30 261.4L88.80 261.4L89.30 261.0L89.80 261.1L90.30 263.3L90.80 260.3L91.30 262.1L91.80 261.9L92.30 261.9L92.80 263.5L93.30 259.7L93.80 260.3L94.30 261.8L94.80 262.1L95.30 262.3L95.80 260.7L96.30 260.8L96.80 263.5L97.30 262.6L97.80 262.4L98.30 263.3L98.80 264.3L99.30 261.8L99.80 257.7L100.30 260.0L100.80 261.3L101.30 262.4L101.80 262.9L102.30 260.9L102.80 260.2L103.30 260.8L103.80 259.1L104.30 260.4L104.80 261.4L105.30 262.9L105.80 264.3L106.30 263.3L106.80 262.4L107.30 263.7L107.80 262.7L108.30 264.5L108.80 263.8L109.30 259.9L109.80 261.1L110.30 264.0L110.80 262.5L111.30 260.9L111.80 263.9L112.30 263.0L112.80 262.4L113.30 261.6L113.80 262.8L114.30 262.3L114.80 262.4L115.30 261.7L115.80 262.3L116.30 263.0L116.80 261.7L117.30 260.4L117.80 255.1L118.30 261.4L118.80 260.2L119.30 260.0L119.80 260.6L120.30 262.3L120.80 259.4L121.30 258.6L121.80 262.2L122.30 261.8L122.80 263.6L123.30 261.3L123.80 260.0L124.30 261.9L124.80 261.3L125.30 261.8L125.80 261.6L126.30 263.8L126.80 261.2L127.30 261.7L127.80 261.3L128.30 260.1L128.80 260.7L129.30 260.8L129.80 262.3L130.30 261.2L130.80 271.4L131.30 262.4L131.80 260.6L132.30 261.0L132.80 261.7L133.30 260.2L133.80 259.8L134.30 259.9L134.80 261.3L135.30 263.3L135.80 257.9L136.30 260.7L136.80 261.6L137.30 260.0L137.80 264.2L138.30 261.6L138.80 259.6L139.30 262.6L139.80 261.4L140.30 263.5L140.80 262.0L141.30 263.6L141.80 260.9L142.30 262.1L142.80 263.1L143.30 261.5L143.80 260.3L144.30 261.2L144.80 261.9L145.30 261.5L145.80 262.6L146.30 263.6L146.80 260.5L147.30 259.6L147.80 260.3L148.30 259.8L148.80 260.5L149.30 261.3L149.80 254.1L150.30 262.5L150.80 262.1L151.30 260.3L151.80 261.7L152.30 260.2L152.80 262.7L153.30 261.2L153.80 262.1L154.30 263.1L154.80 261.8L155.30 260.9L155.80 261.1L156.30 260.4L156.80 261.0L157.30 263.6L157.80 261.4L158.30 262.1L158.80 263.0L159.30 263.3L159.80 262.9L160.30 260.3L160.80 260.8L161.30 261.2L161.80 261.3L162.30 262.7L162.80 262.8L163.30 262.6L163.80 260.9L164.30 261.0L164.80 260.4L165.30 262.4L165.80 263.6L166.30 261.0L166.80 260.2L167.30 262.2L167.80 271.0L168.30 255.0L168.80 262.3L169.30 262.4L169.80 261.6L170.30 260.6L170.80 259.6L171.30 261.1L171.80 263.1L172.30 259.6L172.80 263.4L173.30 261.5L173.80 262.7L174.30 260.4L174.80 260.3L175.30 259.8L175.80 261.8L176.30 262.0L176.80 261.3L177.30 261.6L177.80 262.1L178.30 261.2L178.80 263.2L179.30 260.6L179.80 261.8L180.30 262.2L180.80 260.9L181.30 261.4L181.80 264.2L182.30 260.7L182.80 261.4L183.30 260.2L183.80 262.5L184.30 260.5L184.80 261.4L185.30 261.0L185.80 262.7L186.30 261.9L186.80 263.5L187.30 263.3L187.80 261.4L188.30 262.1L188.80 263.1L189.30 258.8L189.80 259.1L190.30 263.4L190.80 260.3L191.30 265.1L191.80 263.4L192.30 259.5L192.80 263.1L193.30 261.8L193.80 262.3L194.30 262.9L194.80 255.1L195.30 261.7L195.80 262.2L196.30 259.8L196.80 261.3L197.30 262.3L197.80 261.5L198.30 262.0L198.80 261.8L199.30 259.8L199.80 261.1L200.30 260.3L200.80 262.8L201.30 263.6L201.80 262.6L202.30 260.2L202.80 262.4L203.30 263.9L203.80 263.0L204.30 263.2L204.80 269.5L205.30 261.3L205.80 262.7L206.30 263.7L206.80 262.5L207.30 262.9L207.80 262.8L208.30 265.6L208.80 264.3L209.30 263.3L209.80 263.0L210.30 261.3L210.80 263.4L211.30 264.6L211.80 262.6L212.30 263.7L212.80 264.6L213.30 262.4L213.80 260.7L214.30 262.5L214.80 262.3L215.30 265.5L215.80 262.4L216.30 262.2L216.80 263.3L217.30 261.7L217.80 262.2L218.30 262.1L218.80 262.0L219.30 262.9L219.80 262.4L220.30 259.9L220.80 263.7L221.30 261.8L221.80 262.9L222.30 262.4L222.80 263.2L223.30 264.4L223.80 262.9L224.30 262.8L224.80 263.4L225.30 262.8L225.80 265.0L226.30 271.8L226.80 253.1L227.30 266.0L227.80 262.6L228.30 264.3L228.80 262.4L229.30 262.7L229.80 264.3L230.30 263.7L230.80 261.8L231.30 262.9L231.80 264.5L232.30 263.1L232.80 265.5L233.30 265.0L233.80 264.7L234.30 262.3L234.80 262.6L235.30 260.5L235.80 266.0L236.30 263.3L236.80 262.1L237.30 263.7L237.80 262.2L238.30 262.6L238.80 262.1L239.30 263.6L239.80 262.0L240.30 262.7L240.80 263.4L241.30 262.1L241.80 262.2L242.30 264.6L242.80 263.6L243.30 264.7L243.80 265.2L244.30 265.5L244.80 265.2L245.30 262.1L245.80 264.8L246.30 262.9L246.80 262.4L247.30 264.1L247.80 266.2L248.30 266.0L248.80 265.2L249.30 264.5L249.80 264.5" stroke="#000" stroke-width="1.1" opacity="0.6" stroke-dasharray="3 1.2 1.5 0.9 4.5 1.6 2 0.7"/>
<path d="M250.30 260.0L250.80 258.6L251.30 263.3L251.80 266.9L252.30 263.7L252.80 260.8L253.30 262.3L253.80 262.5L254.30 260.8L254.80 254.1L255.30 268.6L255.80 263.9L256.30 258.9L256.80 264.5L257.30 265.8L257.80 265.5L258.30 260.1L258.80 257.9L259.30 270.5L259.80 261.0L260.30 260.5L260.80 264.9L261.30 265.8L261.80 271.5L262.30 259.7L262.80 261.5L263.30 258.8L263.80 262.9L264.30 259.6L264.80 271.5L265.30 268.1L265.80 264.8L266.30 264.6L266.80 268.3L267.30 260.9L267.80 261.3L268.30 261.0L268.80 262.8L269.30 270.7L269.80 255.5L270.30 258.7L270.80 258.3L271.30 260.4L271.80 257.3L272.30 256.9L272.80 260.1L273.30 264.6L273.80 262.6L274.30 262.3L274.80 266.4L275.30 264.9L275.80 264.5L276.30 262.9L276.80 265.1L277.30 262.7L277.80 261.5L278.30 262.0L278.80 263.4L279.30 264.7L279.80 261.0L280.30 262.2L280.80 259.3L281.30 256.3L281.80 260.2L282.30 269.4L282.80 264.7L283.30 264.9L283.80 265.5L284.30 263.2L284.80 264.5L285.30 261.2L285.80 261.4L286.30 261.0L286.80 260.0L287.30 263.1L287.80 265.0L288.30 266.0L288.80 269.2L289.30 266.6L289.80 273.4L290.30 266.3L290.80 262.5L291.30 261.7L291.80 265.8L292.30 265.3L292.80 265.6L293.30 263.4L293.80 265.9L294.30 262.7L294.80 263.5L295.30 264.2L295.80 264.9L296.30 266.0L296.80 261.9L297.30 261.7L297.80 267.8L298.30 264.3L298.80 267.6L299.30 266.8L299.80 260.7L300.30 266.4L300.80 263.3L301.30 264.5L301.80 264.7L302.30 264.9L302.80 261.1L303.30 263.5L303.80 267.4L304.30 266.0L304.80 267.4L305.30 267.1L305.80 263.6L306.30 264.6L306.80 266.8L307.30 265.8L307.80 263.1L308.30 265.1L308.80 264.5L309.30 262.4L309.80 262.5L310.30 265.7L310.80 265.4L311.30 262.2L311.80 263.0L312.30 263.9L312.80 264.0L313.30 264.2L313.80 263.2L314.30 265.3L314.80 261.1L315.30 263.1L315.80 264.0L316.30 264.4L316.80 263.7L317.30 264.5L317.80 269.3L318.30 264.0L318.80 267.2L319.30 265.0L319.80 269.8L320.30 263.3L320.80 267.0L321.30 264.0L321.80 263.8L322.30 264.4L322.80 261.0L323.30 264.5L323.80 264.5L324.30 262.7L324.80 263.7L325.30 265.0L325.80 263.7L326.30 266.5L326.80 264.2L327.30 268.1L327.80 265.4L328.30 263.2L328.80 266.4L329.30 265.4L329.80 262.5L330.30 267.8L330.80 265.0L331.30 265.4L331.80 268.9L332.30 264.1L332.80 264.0L333.30 265.2L333.80 261.5L334.30 265.5L334.80 262.8" stroke="#000" stroke-width="1.1" opacity="0.5" stroke-dasharray="3 1.2 1.5 0.9 4.5 1.6 2 0.7"/>
<path d="M335.30 265.3L335.80 264.9L336.30 262.2L336.80 262.2L337.30 266.4L337.80 263.4L338.30 265.0L338.80 265.3L339.30 266.3L339.80 264.5L340.30 263.5L340.80 266.0L341.30 265.4L341.80 265.9L342.30 263.3L342.80 266.5L343.30 264.9L343.80 264.0L344.30 265.2L344.80 263.9L345.30 261.5L345.80 262.8L346.30 263.7L346.80 263.2L347.30 263.2L347.80 262.3L348.30 261.6L348.80 262.7L349.30 263.5L349.80 263.7L350.30 263.9L350.80 262.6L351.30 262.4L351.80 262.2L352.30 262.1L352.80 262.3L353.30 263.1L353.80 263.0L354.30 265.4L354.80 263.3L355.30 262.5L355.80 264.2L356.30 265.7L356.80 263.9L357.30 262.3L357.80 264.8L358.30 263.0L358.80 264.2L359.30 263.6L359.80 263.2L360.30 265.6L360.80 265.0L361.30 264.9L361.80 265.3L362.30 263.6L362.80 265.1L363.30 265.7L363.80 266.1L364.30 263.1L364.80 264.7L365.30 262.7L365.80 261.3L366.30 264.1L366.80 264.6L367.30 262.5L367.80 264.4L368.30 264.1L368.80 265.7L369.30 267.3L369.80 267.1L370.30 265.7L370.80 264.0L371.30 263.9L371.80 269.7L372.30 263.0L372.80 264.4L373.30 264.7L373.80 266.4L374.30 266.0L374.80 262.9L375.30 267.4L375.80 263.8L376.30 263.3L376.80 261.5L377.30 263.8L377.80 266.9L378.30 264.1L378.80 264.9L379.30 265.2L379.80 266.1L380.30 264.4L380.80 264.4L381.30 266.3L381.80 266.4L382.30 264.6L382.80 265.4L383.30 266.1L383.80 265.2L384.30 264.0L384.80 266.9L385.30 265.5L385.80 264.2L386.30 263.0L386.80 262.1L387.30 263.2L387.80 264.5L388.30 263.5L388.80 266.4L389.30 263.0L389.80 266.0L390.30 263.2L390.80 262.6L391.30 263.0L391.80 256.9L392.30 265.2L392.80 268.9L393.30 265.3L393.80 264.4L394.30 263.5L394.80 263.7L395.30 266.4L395.80 263.0L396.30 263.6L396.80 264.4L397.30 266.0L397.80 261.6L398.30 264.1L398.80 264.5L399.30 262.7L399.80 264.6L400.30 265.2L400.80 266.9L401.30 265.6L401.80 265.5L402.30 266.1L402.80 266.4L403.30 263.6L403.80 265.1L404.30 264.6L404.80 265.1L405.30 266.5L405.80 264.4L406.30 263.1L406.80 264.4L407.30 262.9L407.80 266.9L408.30 267.1L408.80 264.4L409.30 265.7L409.80 263.8L410.30 265.4L410.80 264.4L411.30 267.4L411.80 265.4L412.30 264.9L412.80 266.1L413.30 264.6L413.80 266.0L414.30 264.6L414.80 265.2L415.30 268.4L415.80 262.7L416.30 267.0L416.80 265.4L417.30 266.9L417.80 265.0L418.30 266.0L418.80 264.4L419.30 267.3L419.80 271.1L420.30 264.2L420.80 261.8L421.30 262.5L421.80 266.0L422.30 263.4L422.80 263.4L423.30 265.3L423.80 265.2L424.30 265.4L424.80 265.2L425.30 267.6L425.80 263.3L426.30 264.0L426.80 264.7L427.30 265.2L427.80 266.1L428.30 264.7L428.80 266.2L429.30 265.6L429.80 269.9L430.30 265.7L430.80 268.1L431.30 266.1L431.80 266.1L432.30 266.1L432.80 267.0L433.30 264.8L433.80 265.5L434.30 264.4L434.80 261.5L435.30 266.9L435.80 264.0L436.30 263.9L436.80 262.9L437.30 264.5L437.80 265.2L438.30 266.3L438.80 265.1L439.30 265.0L439.80 263.3L440.30 263.7L440.80 264.8L441.30 261.9L441.80 263.6L442.30 264.5L442.80 266.8L443.30 262.7L443.80 263.9L444.30 266.7L444.80 263.1L445.30 268.6L445.80 265.4L446.30 265.3L446.80 264.4L447.30 260.8L447.80 263.4L448.30 261.5L448.80 263.2L449.30 263.5L449.80 263.7L450.30 265.1L450.80 264.9L451.30 266.1L451.80 260.1L452.30 263.8L452.80 265.2L453.30 264.2L453.80 265.5L454.30 264.6L454.80 265.1L455.30 266.3L455.80 262.6L456.30 265.3L456.80 264.0L457.30 265.5L457.80 265.4L458.30 263.0L458.80 265.4L459.30 266.5L459.80 263.6L460.30 264.7L460.80 266.8L461.30 260.9L461.80 263.0L462.30 266.1L462.80 264.0L463.30 264.2L463.80 262.8L464.30 260.8L464.80 265.2L465.30 265.3L465.80 266.1L466.30 265.8L466.80 264.1L467.30 262.6L467.80 265.2L468.30 266.7L468.80 264.9L469.30 265.4L469.80 267.4L470.30 264.5L470.80 264.8L471.30 266.9L471.80 264.8L472.30 263.9L472.80 264.4L473.30 265.8L473.80 263.3L474.30 263.9L474.80 264.1L475.30 262.8L475.80 263.5" stroke="#000" stroke-width="1.1" opacity="0.25" stroke-dasharray="3 1.2 1.5 0.9 4.5 1.6 2 0.7"/>
<path d="M476.30 264.5L476.80 264.2L477.30 263.8L477.80 263.8L478.30 265.0L478.80 263.6L479.30 263.9L479.80 262.7L480.30 262.1L480.80 270.8L481.30 262.1L481.80 254.4L482.30 264.9L482.80 262.5L483.30 262.5L483.80 263.0L484.30 262.2L484.80 261.4L485.30 261.6L485.80 262.8L486.30 264.2L486.80 263.7L487.30 264.1L487.80 261.0L488.30 262.6L488.80 263.1L489.30 261.1L489.80 264.0L490.30 262.5L490.80 262.1L491.30 262.1L491.80 262.8L492.30 261.0L492.80 264.3L493.30 263.5L493.80 262.8L494.30 262.7L494.80 264.3L495.30 262.3L495.80 264.3L496.30 263.7L496.80 261.7L497.30 262.7L497.80 271.7L498.30 264.9L498.80 264.8L499.30 262.4L499.80 263.7L500.30 261.0L500.80 262.6L501.30 263.9L501.80 262.4L502.30 263.2L502.80 261.7L503.30 261.8L503.80 261.9L504.30 262.1L504.80 262.1L505.30 262.6L505.80 261.2L506.30 260.7L506.80 263.5L507.30 260.1L507.80 260.9L508.30 261.5L508.80 263.8L509.30 263.2L509.80 266.1L510.30 261.8L510.80 261.2L511.30 261.2L511.80 259.5L512.30 262.2L512.80 260.0L513.30 260.7L513.80 262.7L514.30 262.3L514.80 263.2L515.30 263.8L515.80 263.3L516.30 262.2L516.80 260.6L517.30 261.7L517.80 260.4L518.30 260.0L518.80 259.8L519.30 263.3L519.80 260.6L520.30 263.3L520.80 262.0L521.30 261.6L521.80 262.1L522.30 264.1L522.80 260.5L523.30 262.1L523.80 260.9L524.30 260.3L524.80 258.6L525.30 260.0L525.80 260.5L526.30 261.8L526.80 262.6L527.30 261.7L527.80 261.2L528.30 263.2L528.80 260.4L529.30 261.9L529.80 255.6L530.30 263.2L530.80 263.2L531.30 262.2L531.80 262.6L532.30 262.4L532.80 260.9L533.30 263.0L533.80 261.0L534.30 260.8L534.80 261.9L535.30 259.9L535.80 260.5L536.30 263.8L536.80 261.6L537.30 260.4L537.80 260.4L538.30 262.2L538.80 261.4L539.30 260.3L539.80 262.4L540.30 259.5L540.80 262.9L541.30 262.4L541.80 263.1L542.30 258.7L542.80 261.3L543.30 262.6L543.80 261.2L544.30 259.9L544.80 267.5L545.30 259.0L545.80 261.1L546.30 261.6L546.80 260.2L547.30 260.4L547.80 261.4L548.30 261.5L548.80 260.8L549.30 259.8L549.80 259.1L550.30 260.0L550.80 260.2L551.30 259.2L551.80 263.6L552.30 260.2L552.80 260.2L553.30 261.1L553.80 259.1L554.30 259.7L554.80 261.5L555.30 260.2L555.80 262.6L556.30 261.0L556.80 262.1L557.30 262.9L557.80 261.9L558.30 260.2L558.80 259.9L559.30 260.9L559.80 259.9L560.30 259.2L560.80 261.9L561.30 261.9L561.80 260.7L562.30 260.4L562.80 259.4L563.30 259.4L563.80 259.5L564.30 259.3L564.80 259.7L565.30 259.5L565.80 260.9L566.30 259.0L566.80 262.1L567.30 263.1L567.80 260.3L568.30 258.6L568.80 261.4L569.30 261.6L569.80 261.1L570.30 259.6L570.80 260.6L571.30 257.5L571.80 260.4L572.30 259.2L572.80 261.2L573.30 258.9L573.80 262.5L574.30 262.8L574.80 261.9L575.30 261.0L575.80 264.7L576.30 258.8L576.80 260.7L577.30 260.3L577.80 259.2L578.30 260.0L578.80 260.0L579.30 261.3L579.80 260.5L580.30 262.1L580.80 261.0L581.30 259.3L581.80 261.2" stroke="#000" stroke-width="1.1" opacity="0.8" stroke-dasharray="3 1.2 1.5 0.9 4.5 1.6 2 0.7"/>
<path d="M582.30 257.3L582.80 257.9L583.30 259.3L583.80 260.8L584.30 262.0L584.80 261.2L585.30 260.8L585.80 260.5L586.30 258.3L586.80 260.0L587.30 261.5L587.80 260.6L588.30 259.2L588.80 260.2L589.30 259.6L589.80 258.5L590.30 260.6L590.80 259.6L591.30 258.2L591.80 259.3L592.30 258.2L592.80 258.3L593.30 259.0L593.80 259.1L594.30 258.0L594.80 257.7L595.30 259.2L595.80 259.2L596.30 260.5L596.80 260.0" stroke="#000" stroke-width="1.1" opacity="0.6" stroke-dasharray="3 1.2 1.5 0.9 4.5 1.6 2 0.7"/>
<path d="M597.30 258.8L597.80 260.4L598.30 258.4L598.80 259.3L599.30 260.8L599.80 259.4L600.30 257.0L600.80 257.2L601.30 259.6L601.80 257.1L602.30 259.1L602.80 259.7L603.30 260.1L603.80 259.5L604.30 260.2L604.80 259.4L605.30 259.4L605.80 260.6L606.30 258.9L606.80 259.5L607.30 261.0L607.80 260.4L608.30 259.2L608.80 259.1L609.30 259.7L609.80 252.1L610.30 258.2L610.80 264.6L611.30 260.3L611.80 258.1L612.30 261.5L612.80 260.6L613.30 260.2L613.80 259.9L614.30 260.3L614.80 260.9L615.30 260.5L615.80 261.0L616.30 260.3L616.80 258.9L617.30 260.2L617.80 260.8L618.30 260.2L618.80 259.3L619.30 259.7L619.80 260.8L620.30 258.6L620.80 261.4L621.30 260.2L621.80 257.1L622.30 258.3L622.80 259.9L623.30 258.6L623.80 259.6L624.30 261.1L624.80 260.9L625.30 258.7L625.80 261.3L626.30 261.6L626.80 259.0L627.30 260.6L627.80 259.2L628.30 258.3L628.80 262.2L629.30 262.5L629.80 260.0L630.30 258.6L630.80 262.7L631.30 260.1L631.80 261.1L632.30 259.0L632.80 261.3L633.30 261.8L633.80 261.0L634.30 261.7L634.80 260.7L635.30 260.9L635.80 252.6L636.30 259.2L636.80 257.6L637.30 260.0L637.80 260.0L638.30 259.2L638.80 262.6L639.30 261.1L639.80 264.9L640.30 262.6L640.80 260.5L641.30 260.9L641.80 262.6L642.30 263.3L642.80 264.2L643.30 262.3L643.80 264.2L644.30 262.6L644.80 264.1L645.30 262.6L645.80 262.7L646.30 263.2L646.80 262.9L647.30 263.1L647.80 264.2L648.30 262.2L648.80 264.0L649.30 263.8L649.80 270.8L650.30 264.7L650.80 264.5" stroke="#000" stroke-width="1.1" opacity="0.15" stroke-dasharray="3 1.2 1.5 0.9 4.5 1.6 2 0.7"/><path d="M610.3 258V267M610.9 259V266.5M635 259V267M639.3 260V266M650.5 264V267.5M222.3 252V270M226.5 252V271M131.8 255V268M134.5 256V266M145 258V264M148 258V265" stroke="#000" stroke-width="1" opacity="0.85"/>
</g>
<g stroke="#484848" stroke-width="1.15" fill="none">
<rect x="65.8" y="13.4" width="632.6500000000001" height="498.5"/>
<path d="M156.18 511.9V505.59999999999997M156.18 13.4V19.7"/><path d="M246.56 511.9V505.59999999999997M246.56 13.4V19.7"/><path d="M336.94 511.9V505.59999999999997M336.94 13.4V19.7"/><path d="M427.31 511.9V505.59999999999997M427.31 13.4V19.7"/><path d="M517.69 511.9V505.59999999999997M517.69 13.4V19.7"/><path d="M608.07 511.9V505.59999999999997M608.07 13.4V19.7"/><path d="M65.8 428.82H72.1M698.45 428.82H692.1500000000001"/><path d="M65.8 345.73H72.1M698.45 345.73H692.1500000000001"/><path d="M65.8 262.65H72.1M698.45 262.65H692.1500000000001"/><path d="M65.8 179.57H72.1M698.45 179.57H692.1500000000001"/><path d="M65.8 96.48H72.1M698.45 96.48H692.1500000000001"/>
</g>
<g class="tk"><text x="65.80" y="536.2" text-anchor="middle" letter-spacing="0">0</text><text x="156.48" y="536.2" text-anchor="middle" letter-spacing="0.6">100</text><text x="246.86" y="536.2" text-anchor="middle" letter-spacing="0.6">200</text><text x="337.24" y="536.2" text-anchor="middle" letter-spacing="0.6">300</text><text x="427.61" y="536.2" text-anchor="middle" letter-spacing="0.6">400</text><text x="517.99" y="536.2" text-anchor="middle" letter-spacing="0.6">500</text><text x="608.37" y="536.2" text-anchor="middle" letter-spacing="0.6">600</text><text x="698.75" y="536.2" text-anchor="middle" letter-spacing="0.6">700</text><text x="58.1" y="516.90" text-anchor="end">3</text><path d="M35.1 511.55H46.8" stroke="#262626" stroke-width="1.05" fill="none"/><text x="58.1" y="433.82" text-anchor="end">2</text><path d="M35.1 428.47H46.8" stroke="#262626" stroke-width="1.05" fill="none"/><text x="58.1" y="350.73" text-anchor="end">1</text><path d="M35.1 345.38H46.8" stroke="#262626" stroke-width="1.05" fill="none"/><text x="58.1" y="267.65" text-anchor="end">0</text><text x="58.1" y="184.57" text-anchor="end">1</text><text x="58.1" y="101.48" text-anchor="end">2</text><text x="58.1" y="18.40" text-anchor="end">3</text></g>
<text class="lb" x="382.4" y="566.6" text-anchor="middle">Time [s]</text>
<text class="lb" transform="translate(21.9 263) rotate(-90)" text-anchor="middle">Attitude [deg]</text>
<g class="lg">
<rect x="523" y="28.9" width="160.3" height="76.7" fill="#fff" stroke="#4a4a4a" stroke-width="1.2"/>
<path d="M528.9 43.1H587.5" stroke="#0072BD" stroke-width="0.95"/>
<path d="M528.9 67.2H587.5" stroke="#1a1a1a" stroke-width="0.95"/>
<path d="M528.9 91.5H587.5" stroke="#EDB120" stroke-width="0.95"/>
<path transform="translate(0 0.00)" d="M593.0 50.05L599.0 37.45h0.9L605.8 50.05ZM594.67 48.95H603.35L599.01 40.27Z" fill="#1a1a1a" fill-rule="evenodd"/><text x="612.0" y="50.0" letter-spacing="0.18">Heading</text>
<path transform="translate(0 24.00)" d="M593.0 50.05L599.0 37.45h0.9L605.8 50.05ZM594.67 48.95H603.35L599.01 40.27Z" fill="#1a1a1a" fill-rule="evenodd"/><text x="612.0" y="74.0" letter-spacing="0.18">Pitch</text>
<path transform="translate(0 47.70)" d="M593.0 50.05L599.0 37.45h0.9L605.8 50.05ZM594.67 48.95H603.35L599.01 40.27Z" fill="#1a1a1a" fill-rule="evenodd"/><text x="612.0" y="97.7" letter-spacing="0.18">Roll</text>
</g>
</svg>
</body></html>
